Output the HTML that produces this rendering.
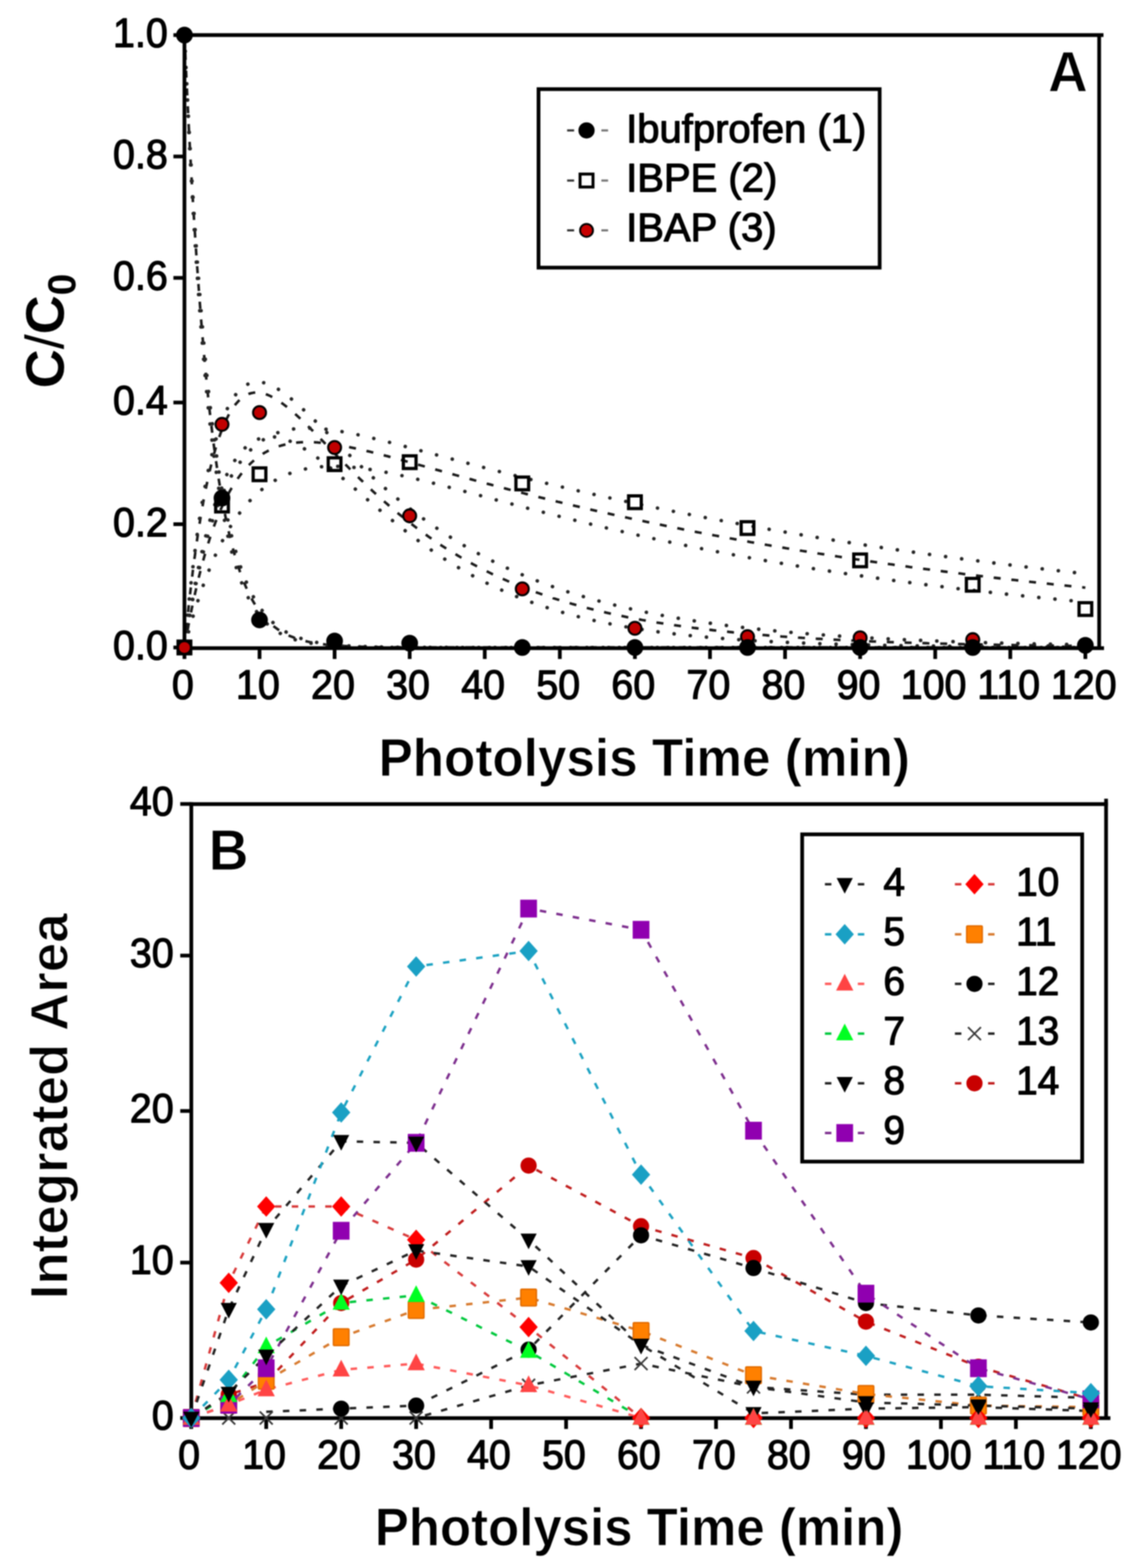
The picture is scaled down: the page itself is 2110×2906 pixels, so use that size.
<!DOCTYPE html>
<html><head><meta charset="utf-8"><title>Photolysis</title>
<style>
html,body{margin:0;padding:0;background:#fff;}
body{width:2110px;height:2906px;overflow:hidden;}
svg{display:block;filter:blur(1px);}
svg text{font-family:'Liberation Sans', Arial, Helvetica, sans-serif;fill:#000;}
</style></head><body>
<svg width="2110" height="2906" viewBox="0 0 2110 2906">
<rect width="2110" height="2906" fill="#fff"/>
<g stroke-linecap="butt">
<polyline points="342,1200 342.1,1199.7 342.2,1198.9 342.3,1198 342.6,1196.8 342.8,1195.5 343.1,1193.9 343.3,1192.3 343.7,1190.4 344,1188.5 344.4,1186.4 344.8,1184.2 345.2,1181.9 345.6,1179.4 346.1,1176.9 346.6,1174.3 347.1,1171.6 347.6,1168.8 348.1,1166 348.7,1163 349.2,1160 349.8,1156.9 350.4,1153.8 351,1150.6 351.7,1147.3 352.3,1144 353,1140.6 353.7,1137.2 354.4,1133.7 355.1,1130.2 355.8,1126.7 356.6,1123.1 357.3,1119.5 358.1,1115.9 358.9,1112.2 359.7,1108.5 360.5,1104.8 361.4,1101 362.2,1097.3 363.1,1093.5 363.9,1089.7 364.8,1085.9 365.7,1082.1 366.6,1078.3 367.5,1074.5 368.5,1070.6 369.4,1066.8 370.4,1063 371.4,1059.2 372.3,1055.3 373.3,1051.5 374.4,1047.7 375.4,1043.9 376.4,1040.1 377.4,1036.3 378.5,1032.5 379.6,1028.8 380.7,1025 381.7,1021.3 382.8,1017.6 384,1013.9 385.1,1010.2 386.2,1006.6 387.4,1002.9 388.5,999.3 389.7,995.8 390.9,992.2 392.1,988.7 393.3,985.2 394.5,981.7 395.7,978.3 396.9,974.9 398.2,971.5 399.4,968.2 400.7,964.9 402,961.7 403.2,958.4 404.5,955.3 405.8,952.1 407.2,949 408.5,945.9 409.8,942.9 411.2,939.9 412.5,936.9 413.9,934 415.3,931.1 416.6,928.3 418,925.5 419.4,922.7 420.9,920 422.3,917.3 423.7,914.6 425.1,912 426.6,909.4 428.1,906.9 429.5,904.4 431,901.9 432.5,899.5 434,897.1 435.5,894.8 437,892.5 438.5,890.2 440.1,888 441.6,885.8 443.2,883.7 444.7,881.6 446.3,879.5 447.9,877.5 449.5,875.5 451.1,873.6 452.7,871.7 454.3,869.8 455.9,868 457.5,866.2 459.2,864.4 460.8,862.7 462.5,861.1 464.1,859.4 465.8,857.8 467.5,856.3 469.2,854.8 470.9,853.3 472.6,851.8 474.3,850.4 476,849 477.8,847.7 479.5,846.4 481.3,845.1 483,843.9 484.8,842.7 486.6,841.6 488.4,840.4 490.1,839.3 491.9,838.3 493.8,837.3 495.6,836.3 497.4,835.3 499.2,834.4 501.1,833.5 502.9,832.6 504.8,831.8 506.6,831 508.5,830.2 510.4,829.5 512.3,828.8 514.2,828.1 516.1,827.4 518,826.8 519.9,826.2 521.8,825.6 523.8,825.1 525.7,824.6 527.7,824.1 529.6,823.6 531.6,823.2 533.6,822.8 535.5,822.4 537.5,822 539.5,821.7 541.5,821.4 543.5,821.1 545.6,820.8 547.6,820.6 549.6,820.4 551.7,820.2 553.7,820 555.8,819.9 557.8,819.7 559.9,819.6 562,819.5 564.1,819.5 566.2,819.4 568.3,819.4 570.4,819.4 572.5,819.4 574.6,819.4 576.7,819.4 578.9,819.5 581,819.6 583.2,819.7 585.3,819.8 587.5,819.9 589.7,820.1 591.9,820.3 594.1,820.4 596.2,820.6 598.4,820.8 600.7,821.1 602.9,821.3 605.1,821.6 607.3,821.8 609.6,822.1 611.8,822.4 614.1,822.7 616.3,823 618.6,823.4 620.9,823.7 623.1,824.1 625.4,824.5 627.7,824.8 630,825.2 632.3,825.6 634.6,826.1 637,826.5 639.3,826.9 641.6,827.4 644,827.8 646.3,828.3 648.7,828.8 651,829.3 653.4,829.8 655.8,830.3 658.2,830.8 660.6,831.3 663,831.8 665.4,832.4 667.8,832.9 670.2,833.5 672.6,834 675,834.6 677.5,835.2 679.9,835.8 682.4,836.3 684.8,836.9 687.3,837.5 689.8,838.2 692.2,838.8 694.7,839.4 697.2,840 699.7,840.7 702.2,841.3 704.7,841.9 707.2,842.6 709.7,843.2 712.3,843.9 714.8,844.6 717.4,845.2 719.9,845.9 722.5,846.6 725,847.3 727.6,848 730.2,848.7 732.7,849.4 735.3,850.1 737.9,850.8 740.5,851.5 743.1,852.2 745.7,852.9 748.4,853.6 751,854.3 753.6,855.1 756.2,855.8 758.9,856.5 761.5,857.3 764.2,858 766.9,858.7 769.5,859.5 772.2,860.2 774.9,861 777.6,861.7 780.3,862.5 783,863.2 785.7,864 788.4,864.7 791.1,865.5 793.8,866.3 796.6,867 799.3,867.8 802,868.6 804.8,869.3 807.5,870.1 810.3,870.9 813.1,871.6 815.8,872.4 818.6,873.2 821.4,874 824.2,874.7 827,875.5 829.8,876.3 832.6,877.1 835.4,877.9 838.3,878.7 841.1,879.4 843.9,880.2 846.8,881 849.6,881.8 852.5,882.6 855.3,883.4 858.2,884.2 861.1,885 863.9,885.7 866.8,886.5 869.7,887.3 872.6,888.1 875.5,888.9 878.4,889.7 881.3,890.5 884.2,891.3 887.2,892.1 890.1,892.9 893,893.7 896,894.5 898.9,895.3 901.9,896.1 904.8,896.9 907.8,897.6 910.8,898.4 913.7,899.2 916.7,900 919.7,900.8 922.7,901.6 925.7,902.4 928.7,903.2 931.7,904 934.7,904.8 937.8,905.6 940.8,906.4 943.8,907.2 946.9,908 949.9,908.8 953,909.5 956,910.3 959.1,911.1 962.2,911.9 965.2,912.7 968.3,913.5 971.4,914.3 974.5,915.1 977.6,915.9 980.7,916.7 983.8,917.4 986.9,918.2 990,919 993.2,919.8 996.3,920.6 999.4,921.4 1002.6,922.2 1005.7,922.9 1008.9,923.7 1012,924.5 1015.2,925.3 1018.4,926.1 1021.5,926.8 1024.7,927.6 1027.9,928.4 1031.1,929.2 1034.3,930 1037.5,930.7 1040.7,931.5 1043.9,932.3 1047.2,933.1 1050.4,933.8 1053.6,934.6 1056.9,935.4 1060.1,936.1 1063.3,936.9 1066.6,937.7 1069.9,938.4 1073.1,939.2 1076.4,940 1079.7,940.7 1083,941.5 1086.2,942.3 1089.5,943 1092.8,943.8 1096.1,944.6 1099.4,945.3 1102.8,946.1 1106.1,946.8 1109.4,947.6 1112.7,948.3 1116.1,949.1 1119.4,949.8 1122.8,950.6 1126.1,951.3 1129.5,952.1 1132.8,952.8 1136.2,953.6 1139.6,954.3 1142.9,955.1 1146.3,955.8 1149.7,956.6 1153.1,957.3 1156.5,958.1 1159.9,958.8 1163.3,959.5 1166.7,960.3 1170.2,961 1173.6,961.8 1177,962.5 1180.5,963.2 1183.9,964 1187.3,964.7 1190.8,965.4 1194.3,966.1 1197.7,966.9 1201.2,967.6 1204.7,968.3 1208.1,969 1211.6,969.8 1215.1,970.5 1218.6,971.2 1222.1,971.9 1225.6,972.7 1229.1,973.4 1232.6,974.1 1236.2,974.8 1239.7,975.6 1243.2,976.3 1246.8,977 1250.3,977.7 1253.9,978.4 1257.4,979.2 1261,979.9 1264.5,980.6 1268.1,981.3 1271.7,982 1275.2,982.7 1278.8,983.4 1282.4,984.1 1286,984.8 1289.6,985.6 1293.2,986.3 1296.8,987 1300.4,987.7 1304.1,988.4 1307.7,989.1 1311.3,989.8 1314.9,990.5 1318.6,991.1 1322.2,991.8 1325.9,992.5 1329.5,993.2 1333.2,993.9 1336.9,994.6 1340.5,995.3 1344.2,996 1347.9,996.7 1351.6,997.3 1355.3,998 1359,998.7 1362.7,999.4 1366.4,1000.1 1370.1,1000.7 1373.8,1001.4 1377.5,1002.1 1381.2,1002.7 1385,1003.4 1388.7,1004.1 1392.4,1004.8 1396.2,1005.4 1399.9,1006.1 1403.7,1006.7 1407.5,1007.4 1411.2,1008.1 1415,1008.7 1418.8,1009.4 1422.5,1010 1426.3,1010.7 1430.1,1011.4 1433.9,1012 1437.7,1012.7 1441.5,1013.3 1445.3,1014 1449.2,1014.6 1453,1015.2 1456.8,1015.9 1460.6,1016.5 1464.5,1017.2 1468.3,1017.8 1472.1,1018.4 1476,1019.1 1479.9,1019.7 1483.7,1020.4 1487.6,1021 1491.4,1021.6 1495.3,1022.2 1499.2,1022.9 1503.1,1023.5 1507,1024.1 1510.9,1024.7 1514.8,1025.4 1518.7,1026 1522.6,1026.6 1526.5,1027.2 1530.4,1027.8 1534.3,1028.5 1538.3,1029.1 1542.2,1029.7 1546.1,1030.3 1550.1,1030.9 1554,1031.5 1558,1032.1 1561.9,1032.7 1565.9,1033.3 1569.9,1033.9 1573.8,1034.5 1577.8,1035.1 1581.8,1035.7 1585.8,1036.3 1589.8,1036.9 1593.8,1037.5 1597.8,1038.1 1601.8,1038.7 1605.8,1039.3 1609.8,1039.9 1613.8,1040.5 1617.8,1041 1621.9,1041.6 1625.9,1042.2 1629.9,1042.8 1634,1043.4 1638,1043.9 1642.1,1044.5 1646.1,1045.1 1650.2,1045.7 1654.3,1046.2 1658.3,1046.8 1662.4,1047.4 1666.5,1047.9 1670.6,1048.5 1674.7,1049.1 1678.8,1049.6 1682.9,1050.2 1687,1050.8 1691.1,1051.3 1695.2,1051.9 1699.3,1052.4 1703.4,1053 1707.5,1053.5 1711.7,1054.1 1715.8,1054.6 1720,1055.2 1724.1,1055.7 1728.3,1056.3 1732.4,1056.8 1736.6,1057.4 1740.7,1057.9 1744.9,1058.4 1749.1,1059 1753.3,1059.5 1757.4,1060.1 1761.6,1060.6 1765.8,1061.1 1770,1061.7 1774.2,1062.2 1778.4,1062.7 1782.6,1063.2 1786.9,1063.8 1791.1,1064.3 1795.3,1064.8 1799.5,1065.3 1803.8,1065.8 1808,1066.4 1812.3,1066.9 1816.5,1067.4 1820.8,1067.9 1825,1068.4 1829.3,1068.9 1833.5,1069.4 1837.8,1069.9 1842.1,1070.5 1846.4,1071 1850.7,1071.5 1855,1072 1859.2,1072.5 1863.5,1073 1867.8,1073.5 1872.2,1074 1876.5,1074.5 1880.8,1074.9 1885.1,1075.4 1889.4,1075.9 1893.8,1076.4 1898.1,1076.9 1902.4,1077.4 1906.8,1077.9 1911.1,1078.4 1915.5,1078.8 1919.8,1079.3 1924.2,1079.8 1928.6,1080.3 1932.9,1080.8 1937.3,1081.2 1941.7,1081.7 1946.1,1082.2 1950.5,1082.7 1954.9,1083.1 1959.3,1083.6 1963.7,1084.1 1968.1,1084.5 1972.5,1085 1976.9,1085.4 1981.3,1085.9 1985.8,1086.4 1990.2,1086.8 1994.6,1087.3 1999.1,1087.7 2003.5,1088.2 2007.9,1088.6 2012.4,1089.1" fill="none" stroke="#1a1a1a" stroke-width="4.8" stroke-dasharray="13 20"/>
<polyline points="342,1200 342.1,1199.4 342.2,1198.1 342.3,1196.4 342.6,1194.3 342.8,1191.9 343.1,1189.1 343.3,1186.1 343.7,1182.9 344,1179.4 344.4,1175.7 344.8,1171.8 345.2,1167.7 345.6,1163.4 346.1,1159 346.6,1154.4 347.1,1149.6 347.6,1144.7 348.1,1139.7 348.7,1134.6 349.2,1129.3 349.8,1124 350.4,1118.5 351,1113 351.7,1107.4 352.3,1101.7 353,1095.9 353.7,1090 354.4,1084.1 355.1,1078.2 355.8,1072.2 356.6,1066.2 357.3,1060.1 358.1,1054 358.9,1047.8 359.7,1041.7 360.5,1035.5 361.4,1029.4 362.2,1023.2 363.1,1017 363.9,1010.8 364.8,1004.7 365.7,998.5 366.6,992.4 367.5,986.2 368.5,980.1 369.4,974.1 370.4,968.1 371.4,962.1 372.3,956.2 373.3,950.4 374.4,944.6 375.4,938.8 376.4,933.1 377.4,927.4 378.5,921.8 379.6,916.2 380.7,910.7 381.7,905.3 382.8,899.9 384,894.6 385.1,889.3 386.2,884.2 387.4,879 388.5,874 389.7,869 390.9,864.2 392.1,859.3 393.3,854.6 394.5,850 395.7,845.4 396.9,840.9 398.2,836.5 399.4,832.2 400.7,827.9 402,823.8 403.2,819.7 404.5,815.8 405.8,811.9 407.2,808.1 408.5,804.4 409.8,800.7 411.2,797.2 412.5,793.8 413.9,790.4 415.3,787.2 416.6,784 418,780.9 419.4,777.9 420.9,775 422.3,772.2 423.7,769.5 425.1,766.9 426.6,764.4 428.1,761.9 429.5,759.6 431,757.3 432.5,755.1 434,753 435.5,751 437,749.1 438.5,747.3 440.1,745.6 441.6,743.9 443.2,742.3 444.7,740.8 446.3,739.3 447.9,738 449.5,736.7 451.1,735.6 452.7,734.5 454.3,733.5 455.9,732.5 457.5,731.7 459.2,730.9 460.8,730.2 462.5,729.6 464.1,729.1 465.8,728.6 467.5,728.3 469.2,728 470.9,727.7 472.6,727.6 474.3,727.5 476,727.5 477.8,727.5 479.5,727.6 481.3,727.8 483,728.1 484.8,728.4 486.6,728.7 488.4,729.2 490.1,729.7 491.9,730.2 493.8,730.9 495.6,731.6 497.4,732.3 499.2,733.1 501.1,733.9 502.9,734.8 504.8,735.8 506.6,736.8 508.5,737.8 510.4,739 512.3,740.1 514.2,741.3 516.1,742.6 518,743.9 519.9,745.2 521.8,746.6 523.8,747.9 525.7,749.4 527.7,750.8 529.6,752.4 531.6,753.9 533.6,755.5 535.5,757.1 537.5,758.7 539.5,760.4 541.5,762.1 543.5,763.9 545.6,765.7 547.6,767.5 549.6,769.3 551.7,771.2 553.7,773.1 555.8,775 557.8,776.9 559.9,778.9 562,780.9 564.1,782.9 566.2,784.9 568.3,787 570.4,789 572.5,791.1 574.6,793.3 576.7,795.4 578.9,797.5 581,799.7 583.2,801.9 585.3,804.1 587.5,806.3 589.7,808.5 591.9,810.7 594.1,813 596.2,815.3 598.4,817.5 600.7,819.8 602.9,822.1 605.1,824.4 607.3,826.7 609.6,829 611.8,831.3 614.1,833.7 616.3,836 618.6,838.3 620.9,840.7 623.1,843 625.4,845.4 627.7,847.8 630,850.1 632.3,852.5 634.6,854.8 637,857.2 639.3,859.6 641.6,861.9 644,864.3 646.3,866.7 648.7,869.1 651,871.4 653.4,873.8 655.8,876.2 658.2,878.5 660.6,880.9 663,883.2 665.4,885.6 667.8,887.9 670.2,890.3 672.6,892.6 675,895 677.5,897.3 679.9,899.6 682.4,901.9 684.8,904.3 687.3,906.6 689.8,908.9 692.2,911.2 694.7,913.5 697.2,915.7 699.7,918 702.2,920.3 704.7,922.5 707.2,924.8 709.7,927 712.3,929.3 714.8,931.5 717.4,933.7 719.9,935.9 722.5,938.1 725,940.3 727.6,942.5 730.2,944.7 732.7,946.9 735.3,949 737.9,951.2 740.5,953.3 743.1,955.4 745.7,957.5 748.4,959.6 751,961.7 753.6,963.8 756.2,965.9 758.9,967.9 761.5,970 764.2,972 766.9,974.1 769.5,976.1 772.2,978.2 774.9,980.2 777.6,982.2 780.3,984.2 783,986.2 785.7,988.1 788.4,990.1 791.1,992 793.8,994 796.6,995.9 799.3,997.8 802,999.7 804.8,1001.6 807.5,1003.5 810.3,1005.3 813.1,1007.2 815.8,1009 818.6,1010.9 821.4,1012.7 824.2,1014.5 827,1016.3 829.8,1018 832.6,1019.8 835.4,1021.6 838.3,1023.3 841.1,1025 843.9,1026.7 846.8,1028.4 849.6,1030.1 852.5,1031.8 855.3,1033.5 858.2,1035.1 861.1,1036.8 863.9,1038.4 866.8,1040 869.7,1041.6 872.6,1043.2 875.5,1044.8 878.4,1046.4 881.3,1047.9 884.2,1049.5 887.2,1051 890.1,1052.5 893,1054 896,1055.5 898.9,1057 901.9,1058.5 904.8,1059.9 907.8,1061.4 910.8,1062.8 913.7,1064.3 916.7,1065.7 919.7,1067.1 922.7,1068.5 925.7,1069.8 928.7,1071.2 931.7,1072.6 934.7,1073.9 937.8,1075.2 940.8,1076.6 943.8,1077.9 946.9,1079.2 949.9,1080.5 953,1081.7 956,1083 959.1,1084.3 962.2,1085.5 965.2,1086.7 968.3,1088 971.4,1089.2 974.5,1090.4 977.6,1091.6 980.7,1092.7 983.8,1093.9 986.9,1095.1 990,1096.2 993.2,1097.4 996.3,1098.5 999.4,1099.6 1002.6,1100.7 1005.7,1101.8 1008.9,1102.9 1012,1104 1015.2,1105 1018.4,1106.1 1021.5,1107.1 1024.7,1108.2 1027.9,1109.2 1031.1,1110.2 1034.3,1111.2 1037.5,1112.2 1040.7,1113.2 1043.9,1114.2 1047.2,1115.2 1050.4,1116.1 1053.6,1117.1 1056.9,1118 1060.1,1119 1063.3,1119.9 1066.6,1120.8 1069.9,1121.7 1073.1,1122.6 1076.4,1123.5 1079.7,1124.4 1083,1125.3 1086.2,1126.1 1089.5,1127 1092.8,1127.8 1096.1,1128.7 1099.4,1129.5 1102.8,1130.3 1106.1,1131.1 1109.4,1131.9 1112.7,1132.7 1116.1,1133.5 1119.4,1134.3 1122.8,1135.1 1126.1,1135.8 1129.5,1136.6 1132.8,1137.3 1136.2,1138.1 1139.6,1138.8 1142.9,1139.5 1146.3,1140.3 1149.7,1141 1153.1,1141.7 1156.5,1142.4 1159.9,1143.1 1163.3,1143.8 1166.7,1144.4 1170.2,1145.1 1173.6,1145.8 1177,1146.4 1180.5,1147.1 1183.9,1147.7 1187.3,1148.3 1190.8,1149 1194.3,1149.6 1197.7,1150.2 1201.2,1150.8 1204.7,1151.4 1208.1,1152 1211.6,1152.6 1215.1,1153.2 1218.6,1153.8 1222.1,1154.3 1225.6,1154.9 1229.1,1155.4 1232.6,1156 1236.2,1156.5 1239.7,1157.1 1243.2,1157.6 1246.8,1158.1 1250.3,1158.7 1253.9,1159.2 1257.4,1159.7 1261,1160.2 1264.5,1160.7 1268.1,1161.2 1271.7,1161.7 1275.2,1162.2 1278.8,1162.6 1282.4,1163.1 1286,1163.6 1289.6,1164 1293.2,1164.5 1296.8,1164.9 1300.4,1165.4 1304.1,1165.8 1307.7,1166.3 1311.3,1166.7 1314.9,1167.1 1318.6,1167.5 1322.2,1168 1325.9,1168.4 1329.5,1168.8 1333.2,1169.2 1336.9,1169.6 1340.5,1170 1344.2,1170.4 1347.9,1170.7 1351.6,1171.1 1355.3,1171.5 1359,1171.9 1362.7,1172.2 1366.4,1172.6 1370.1,1172.9 1373.8,1173.3 1377.5,1173.7 1381.2,1174 1385,1174.3 1388.7,1174.7 1392.4,1175 1396.2,1175.3 1399.9,1175.7 1403.7,1176 1407.5,1176.3 1411.2,1176.6 1415,1176.9 1418.8,1177.2 1422.5,1177.5 1426.3,1177.8 1430.1,1178.1 1433.9,1178.4 1437.7,1178.7 1441.5,1179 1445.3,1179.3 1449.2,1179.6 1453,1179.8 1456.8,1180.1 1460.6,1180.4 1464.5,1180.6 1468.3,1180.9 1472.1,1181.2 1476,1181.4 1479.9,1181.7 1483.7,1181.9 1487.6,1182.2 1491.4,1182.4 1495.3,1182.6 1499.2,1182.9 1503.1,1183.1 1507,1183.3 1510.9,1183.6 1514.8,1183.8 1518.7,1184 1522.6,1184.2 1526.5,1184.5 1530.4,1184.7 1534.3,1184.9 1538.3,1185.1 1542.2,1185.3 1546.1,1185.5 1550.1,1185.7 1554,1185.9 1558,1186.1 1561.9,1186.3 1565.9,1186.5 1569.9,1186.7 1573.8,1186.9 1577.8,1187 1581.8,1187.2 1585.8,1187.4 1589.8,1187.6 1593.8,1187.7 1597.8,1187.9 1601.8,1188.1 1605.8,1188.3 1609.8,1188.4 1613.8,1188.6 1617.8,1188.8 1621.9,1188.9 1625.9,1189.1 1629.9,1189.2 1634,1189.4 1638,1189.5 1642.1,1189.7 1646.1,1189.8 1650.2,1190 1654.3,1190.1 1658.3,1190.3 1662.4,1190.4 1666.5,1190.5 1670.6,1190.7 1674.7,1190.8 1678.8,1190.9 1682.9,1191.1 1687,1191.2 1691.1,1191.3 1695.2,1191.4 1699.3,1191.6 1703.4,1191.7 1707.5,1191.8 1711.7,1191.9 1715.8,1192 1720,1192.2 1724.1,1192.3 1728.3,1192.4 1732.4,1192.5 1736.6,1192.6 1740.7,1192.7 1744.9,1192.8 1749.1,1192.9 1753.3,1193 1757.4,1193.1 1761.6,1193.2 1765.8,1193.3 1770,1193.4 1774.2,1193.5 1778.4,1193.6 1782.6,1193.7 1786.9,1193.8 1791.1,1193.9 1795.3,1194 1799.5,1194.1 1803.8,1194.2 1808,1194.3 1812.3,1194.3 1816.5,1194.4 1820.8,1194.5 1825,1194.6 1829.3,1194.7 1833.5,1194.8 1837.8,1194.8 1842.1,1194.9 1846.4,1195 1850.7,1195.1 1855,1195.1 1859.2,1195.2 1863.5,1195.3 1867.8,1195.4 1872.2,1195.4 1876.5,1195.5 1880.8,1195.6 1885.1,1195.6 1889.4,1195.7 1893.8,1195.8 1898.1,1195.8 1902.4,1195.9 1906.8,1196 1911.1,1196 1915.5,1196.1 1919.8,1196.1 1924.2,1196.2 1928.6,1196.3 1932.9,1196.3 1937.3,1196.4 1941.7,1196.4 1946.1,1196.5 1950.5,1196.5 1954.9,1196.6 1959.3,1196.6 1963.7,1196.7 1968.1,1196.7 1972.5,1196.8 1976.9,1196.8 1981.3,1196.9 1985.8,1196.9 1990.2,1197 1994.6,1197 1999.1,1197.1 2003.5,1197.1 2007.9,1197.2 2012.4,1197.2" fill="none" stroke="#1a1a1a" stroke-width="4.8" stroke-dasharray="13 20"/>
<polyline points="342,65 342.1,66.4 342.2,69.2 342.3,72.9 342.6,77.5 342.8,82.9 343.1,88.9 343.3,95.5 343.7,102.6 344,110.2 344.4,118.4 344.8,126.9 345.2,135.8 345.6,145.2 346.1,154.9 346.6,164.9 347.1,175.2 347.6,185.8 348.1,196.6 348.7,207.7 349.2,219.1 349.8,230.6 350.4,242.4 351,254.3 351.7,266.3 352.3,278.5 353,290.9 353.7,303.3 354.4,315.9 355.1,328.5 355.8,341.3 356.6,354.1 357.3,366.9 358.1,379.8 358.9,392.7 359.7,405.6 360.5,418.5 361.4,431.5 362.2,444.4 363.1,457.3 363.9,470.2 364.8,483 365.7,495.8 366.6,508.5 367.5,521.4 368.5,534.3 369.4,547.2 370.4,560 371.4,572.7 372.3,585.3 373.3,597.8 374.4,610.2 375.4,622.5 376.4,634.7 377.4,646.8 378.5,658.7 379.6,670.5 380.7,682.2 381.7,693.7 382.8,705.2 384,716.4 385.1,727.6 386.2,738.5 387.4,749.3 388.5,759.7 389.7,770 390.9,780.1 392.1,790.1 393.3,799.9 394.5,809.6 395.7,819.1 396.9,828.5 398.2,837.7 399.4,846.7 400.7,855.6 402,864.4 403.2,873 404.5,881.4 405.8,889.7 407.2,897.8 408.5,905.8 409.8,913.6 411.2,921.2 412.5,928.7 413.9,936.1 415.3,943.3 416.6,950.3 418,957.2 419.4,964 420.9,970.6 422.3,977.1 423.7,983.5 425.1,989.8 426.6,995.9 428.1,1001.9 429.5,1007.7 431,1013.4 432.5,1019 434,1024.4 435.5,1029.7 437,1034.9 438.5,1039.9 440.1,1044.9 441.6,1049.7 443.2,1054.3 444.7,1058.9 446.3,1063.3 447.9,1067.7 449.5,1071.9 451.1,1076 452.7,1079.9 454.3,1083.8 455.9,1087.6 457.5,1091.3 459.2,1094.8 460.8,1098.3 462.5,1101.7 464.1,1105 465.8,1108.2 467.5,1111.2 469.2,1114.3 470.9,1117.2 472.6,1120 474.3,1122.8 476,1125.4 477.8,1128 479.5,1130.5 481.3,1132.9 483,1135.3 484.8,1137.6 486.6,1139.8 488.4,1142 490.1,1144 491.9,1146 493.8,1148 495.6,1149.9 497.4,1151.7 499.2,1153.5 501.1,1155.2 502.9,1156.8 504.8,1158.4 506.6,1160 508.5,1161.5 510.4,1162.9 512.3,1164.3 514.2,1165.7 516.1,1167 518,1168.2 519.9,1169.5 521.8,1170.6 523.8,1171.8 525.7,1172.9 527.7,1173.9 529.6,1174.9 531.6,1175.9 533.6,1176.9 535.5,1177.8 537.5,1178.7 539.5,1179.5 541.5,1180.3 543.5,1181.1 545.6,1181.9 547.6,1182.6 549.6,1183.3 551.7,1184 553.7,1184.7 555.8,1185.3 557.8,1185.9 559.9,1186.5 562,1187 564.1,1187.6 566.2,1188.1 568.3,1188.6 570.4,1189.1 572.5,1189.5 574.6,1190 576.7,1190.4 578.9,1190.8 581,1191.2 583.2,1191.6 585.3,1191.9 587.5,1192.3 589.7,1192.6 591.9,1192.9 594.1,1193.3 596.2,1193.5 598.4,1193.8 600.7,1194.1 602.9,1194.4 605.1,1194.6 607.3,1194.8 609.6,1195.1 611.8,1195.3 614.1,1195.5 616.3,1195.7 618.6,1195.9 620.9,1196.1 623.1,1196.3 625.4,1196.4 627.7,1196.6 630,1196.8 632.3,1196.9 634.6,1197 637,1197.2 639.3,1197.3 641.6,1197.4 644,1197.6 646.3,1197.7 648.7,1197.8 651,1197.9 653.4,1198 655.8,1198.1 658.2,1198.2 660.6,1198.3 663,1198.3 665.4,1198.4 667.8,1198.5 670.2,1198.6 672.6,1198.6 675,1198.7 677.5,1198.8 679.9,1198.8 682.4,1198.9 684.8,1198.9 687.3,1199 689.8,1199 692.2,1199.1 694.7,1199.1 697.2,1199.2 699.7,1199.2 702.2,1199.3 704.7,1199.3 707.2,1199.3 709.7,1199.4 712.3,1199.4 714.8,1199.4 717.4,1199.5 719.9,1199.5 722.5,1199.5 725,1199.5 727.6,1199.6 730.2,1199.6 732.7,1199.6 735.3,1199.6 737.9,1199.6 740.5,1199.7 743.1,1199.7 745.7,1199.7 748.4,1199.7 751,1199.7 753.6,1199.7 756.2,1199.8 758.9,1199.8 761.5,1199.8 764.2,1199.8 766.9,1199.8 769.5,1199.8 772.2,1199.8 774.9,1199.8 777.6,1199.8 780.3,1199.8 783,1199.9 785.7,1199.9 788.4,1199.9 791.1,1199.9 793.8,1199.9 796.6,1199.9 799.3,1199.9 802,1199.9 804.8,1199.9 807.5,1199.9 810.3,1199.9 813.1,1199.9 815.8,1199.9 818.6,1199.9 821.4,1199.9 824.2,1199.9 827,1199.9 829.8,1199.9 832.6,1199.9 835.4,1200 838.3,1200 841.1,1200 843.9,1200 846.8,1200 849.6,1200 852.5,1200 855.3,1200 858.2,1200 861.1,1200 863.9,1200 866.8,1200 869.7,1200 872.6,1200 875.5,1200 878.4,1200 881.3,1200 884.2,1200 887.2,1200 890.1,1200 893,1200 896,1200 898.9,1200 901.9,1200 904.8,1200 907.8,1200 910.8,1200 913.7,1200 916.7,1200 919.7,1200 922.7,1200 925.7,1200 928.7,1200 931.7,1200 934.7,1200 937.8,1200 940.8,1200 943.8,1200 946.9,1200 949.9,1200 953,1200 956,1200 959.1,1200 962.2,1200 965.2,1200 968.3,1200 971.4,1200 974.5,1200 977.6,1200 980.7,1200 983.8,1200 986.9,1200 990,1200 993.2,1200 996.3,1200 999.4,1200 1002.6,1200 1005.7,1200 1008.9,1200 1012,1200 1015.2,1200 1018.4,1200 1021.5,1200 1024.7,1200 1027.9,1200 1031.1,1200 1034.3,1200 1037.5,1200 1040.7,1200 1043.9,1200 1047.2,1200 1050.4,1200 1053.6,1200 1056.9,1200 1060.1,1200 1063.3,1200 1066.6,1200 1069.9,1200 1073.1,1200 1076.4,1200 1079.7,1200 1083,1200 1086.2,1200 1089.5,1200 1092.8,1200 1096.1,1200 1099.4,1200 1102.8,1200 1106.1,1200 1109.4,1200 1112.7,1200 1116.1,1200 1119.4,1200 1122.8,1200 1126.1,1200 1129.5,1200 1132.8,1200 1136.2,1200 1139.6,1200 1142.9,1200 1146.3,1200 1149.7,1200 1153.1,1200 1156.5,1200 1159.9,1200 1163.3,1200 1166.7,1200 1170.2,1200 1173.6,1200 1177,1200 1180.5,1200 1183.9,1200 1187.3,1200 1190.8,1200 1194.3,1200 1197.7,1200 1201.2,1200 1204.7,1200 1208.1,1200 1211.6,1200 1215.1,1200 1218.6,1200 1222.1,1200 1225.6,1200 1229.1,1200 1232.6,1200 1236.2,1200 1239.7,1200 1243.2,1200 1246.8,1200 1250.3,1200 1253.9,1200 1257.4,1200 1261,1200 1264.5,1200 1268.1,1200 1271.7,1200 1275.2,1200 1278.8,1200 1282.4,1200 1286,1200 1289.6,1200 1293.2,1200 1296.8,1200 1300.4,1200 1304.1,1200 1307.7,1200 1311.3,1200 1314.9,1200 1318.6,1200 1322.2,1200 1325.9,1200 1329.5,1200 1333.2,1200 1336.9,1200 1340.5,1200 1344.2,1200 1347.9,1200 1351.6,1200 1355.3,1200 1359,1200 1362.7,1200 1366.4,1200 1370.1,1200 1373.8,1200 1377.5,1200 1381.2,1200 1385,1200 1388.7,1200 1392.4,1200 1396.2,1200 1399.9,1200 1403.7,1200 1407.5,1200 1411.2,1200 1415,1200 1418.8,1200 1422.5,1200 1426.3,1200 1430.1,1200 1433.9,1200 1437.7,1200 1441.5,1200 1445.3,1200 1449.2,1200 1453,1200 1456.8,1200 1460.6,1200 1464.5,1200 1468.3,1200 1472.1,1200 1476,1200 1479.9,1200 1483.7,1200 1487.6,1200 1491.4,1200 1495.3,1200 1499.2,1200 1503.1,1200 1507,1200 1510.9,1200 1514.8,1200 1518.7,1200 1522.6,1200 1526.5,1200 1530.4,1200 1534.3,1200 1538.3,1200 1542.2,1200 1546.1,1200 1550.1,1200 1554,1200 1558,1200 1561.9,1200 1565.9,1200 1569.9,1200 1573.8,1200 1577.8,1200 1581.8,1200 1585.8,1200 1589.8,1200 1593.8,1200 1597.8,1200 1601.8,1200 1605.8,1200 1609.8,1200 1613.8,1200 1617.8,1200 1621.9,1200 1625.9,1200 1629.9,1200 1634,1200 1638,1200 1642.1,1200 1646.1,1200 1650.2,1200 1654.3,1200 1658.3,1200 1662.4,1200 1666.5,1200 1670.6,1200 1674.7,1200 1678.8,1200 1682.9,1200 1687,1200 1691.1,1200 1695.2,1200 1699.3,1200 1703.4,1200 1707.5,1200 1711.7,1200 1715.8,1200 1720,1200 1724.1,1200 1728.3,1200 1732.4,1200 1736.6,1200 1740.7,1200 1744.9,1200 1749.1,1200 1753.3,1200 1757.4,1200 1761.6,1200 1765.8,1200 1770,1200 1774.2,1200 1778.4,1200 1782.6,1200 1786.9,1200 1791.1,1200 1795.3,1200 1799.5,1200 1803.8,1200 1808,1200 1812.3,1200 1816.5,1200 1820.8,1200 1825,1200 1829.3,1200 1833.5,1200 1837.8,1200 1842.1,1200 1846.4,1200 1850.7,1200 1855,1200 1859.2,1200 1863.5,1200 1867.8,1200 1872.2,1200 1876.5,1200 1880.8,1200 1885.1,1200 1889.4,1200 1893.8,1200 1898.1,1200 1902.4,1200 1906.8,1200 1911.1,1200 1915.5,1200 1919.8,1200 1924.2,1200 1928.6,1200 1932.9,1200 1937.3,1200 1941.7,1200 1946.1,1200 1950.5,1200 1954.9,1200 1959.3,1200 1963.7,1200 1968.1,1200 1972.5,1200 1976.9,1200 1981.3,1200 1985.8,1200 1990.2,1200 1994.6,1200 1999.1,1200 2003.5,1200 2007.9,1200 2012.4,1200" fill="none" stroke="#1a1a1a" stroke-width="4.8" stroke-dasharray="13 20"/>
</g><g stroke-linecap="round">
<polyline points="342,1200 342.1,1199.6 342.2,1198.8 342.3,1197.8 342.6,1196.5 342.8,1195 343.1,1193.3 343.3,1191.5 343.7,1189.5 344,1187.3 344.4,1185 344.8,1182.6 345.2,1180.1 345.6,1177.4 346.1,1174.7 346.6,1171.8 347.1,1168.9 347.6,1165.8 348.1,1162.7 348.7,1159.4 349.2,1156.1 349.8,1152.8 350.4,1149.3 351,1145.8 351.7,1142.2 352.3,1138.6 353,1134.9 353.7,1131.2 354.4,1127.4 355.1,1123.6 355.8,1119.7 356.6,1115.8 357.3,1111.9 358.1,1107.9 358.9,1103.9 359.7,1099.9 360.5,1095.9 361.4,1091.8 362.2,1087.7 363.1,1083.6 363.9,1079.5 364.8,1075.4 365.7,1071.2 366.6,1067.1 367.5,1063 368.5,1058.8 369.4,1054.7 370.4,1050.5 371.4,1046.4 372.3,1042.2 373.3,1038.1 374.4,1034 375.4,1029.9 376.4,1025.8 377.4,1021.7 378.5,1017.6 379.6,1013.6 380.7,1009.5 381.7,1005.5 382.8,1001.5 384,997.6 385.1,993.6 386.2,989.7 387.4,985.8 388.5,982 389.7,978.1 390.9,974.3 392.1,970.6 393.3,966.9 394.5,963.2 395.7,959.6 396.9,956 398.2,952.4 399.4,948.9 400.7,945.4 402,941.9 403.2,938.5 404.5,935.2 405.8,931.8 407.2,928.5 408.5,925.3 409.8,922 411.2,918.9 412.5,915.7 413.9,912.6 415.3,909.6 416.6,906.5 418,903.6 419.4,900.6 420.9,897.8 422.3,894.9 423.7,892.1 425.1,889.3 426.6,886.6 428.1,884 429.5,881.3 431,878.7 432.5,876.2 434,873.7 435.5,871.3 437,868.8 438.5,866.5 440.1,864.2 441.6,861.9 443.2,859.6 444.7,857.4 446.3,855.3 447.9,853.2 449.5,851.1 451.1,849.1 452.7,847.1 454.3,845.2 455.9,843.3 457.5,841.4 459.2,839.6 460.8,837.9 462.5,836.1 464.1,834.4 465.8,832.8 467.5,831.2 469.2,829.6 470.9,828.1 472.6,826.6 474.3,825.1 476,823.7 477.8,822.3 479.5,821 481.3,819.7 483,818.4 484.8,817.2 486.6,816 488.4,814.9 490.1,813.8 491.9,812.7 493.8,811.6 495.6,810.6 497.4,809.6 499.2,808.7 501.1,807.8 502.9,806.9 504.8,806 506.6,805.2 508.5,804.4 510.4,803.7 512.3,803 514.2,802.3 516.1,801.6 518,801 519.9,800.4 521.8,799.8 523.8,799.2 525.7,798.7 527.7,798.2 529.6,797.7 531.6,797.3 533.6,796.9 535.5,796.5 537.5,796.1 539.5,795.8 541.5,795.5 543.5,795.2 545.6,794.9 547.6,794.7 549.6,794.5 551.7,794.3 553.7,794.1 555.8,793.9 557.8,793.8 559.9,793.7 562,793.6 564.1,793.5 566.2,793.5 568.3,793.4 570.4,793.4 572.5,793.4 574.6,793.5 576.7,793.5 578.9,793.6 581,793.7 583.2,793.7 585.3,793.9 587.5,794 589.7,794.1 591.9,794.3 594.1,794.5 596.2,794.7 598.4,794.9 600.7,795.1 602.9,795.3 605.1,795.6 607.3,795.8 609.6,796.1 611.8,796.4 614.1,796.7 616.3,797 618.6,797.4 620.9,797.7 623.1,798 625.4,798.4 627.7,798.8 630,799.2 632.3,799.6 634.6,800 637,800.4 639.3,800.8 641.6,801.3 644,801.7 646.3,802.2 648.7,802.6 651,803.1 653.4,803.6 655.8,804.1 658.2,804.6 660.6,805.1 663,805.6 665.4,806.1 667.8,806.7 670.2,807.2 672.6,807.7 675,808.3 677.5,808.9 679.9,809.4 682.4,810 684.8,810.6 687.3,811.2 689.8,811.7 692.2,812.3 694.7,813 697.2,813.6 699.7,814.2 702.2,814.8 704.7,815.4 707.2,816.1 709.7,816.7 712.3,817.3 714.8,818 717.4,818.6 719.9,819.3 722.5,819.9 725,820.6 727.6,821.3 730.2,821.9 732.7,822.6 735.3,823.3 737.9,824 740.5,824.6 743.1,825.3 745.7,826 748.4,826.7 751,827.4 753.6,828.1 756.2,828.8 758.9,829.5 761.5,830.2 764.2,830.9 766.9,831.7 769.5,832.4 772.2,833.1 774.9,833.8 777.6,834.5 780.3,835.3 783,836 785.7,836.7 788.4,837.5 791.1,838.2 793.8,838.9 796.6,839.7 799.3,840.4 802,841.1 804.8,841.9 807.5,842.6 810.3,843.4 813.1,844.1 815.8,844.9 818.6,845.6 821.4,846.4 824.2,847.1 827,847.9 829.8,848.6 832.6,849.4 835.4,850.1 838.3,850.9 841.1,851.7 843.9,852.4 846.8,853.2 849.6,853.9 852.5,854.7 855.3,855.5 858.2,856.2 861.1,857 863.9,857.8 866.8,858.5 869.7,859.3 872.6,860.1 875.5,860.8 878.4,861.6 881.3,862.4 884.2,863.1 887.2,863.9 890.1,864.7 893,865.4 896,866.2 898.9,867 901.9,867.7 904.8,868.5 907.8,869.3 910.8,870.1 913.7,870.8 916.7,871.6 919.7,872.4 922.7,873.1 925.7,873.9 928.7,874.7 931.7,875.5 934.7,876.2 937.8,877 940.8,877.8 943.8,878.5 946.9,879.3 949.9,880.1 953,880.8 956,881.6 959.1,882.4 962.2,883.2 965.2,883.9 968.3,884.7 971.4,885.5 974.5,886.2 977.6,887 980.7,887.8 983.8,888.5 986.9,889.3 990,890.1 993.2,890.8 996.3,891.6 999.4,892.4 1002.6,893.1 1005.7,893.9 1008.9,894.7 1012,895.4 1015.2,896.2 1018.4,897 1021.5,897.7 1024.7,898.5 1027.9,899.2 1031.1,900 1034.3,900.8 1037.5,901.5 1040.7,902.3 1043.9,903 1047.2,903.8 1050.4,904.6 1053.6,905.3 1056.9,906.1 1060.1,906.8 1063.3,907.6 1066.6,908.3 1069.9,909.1 1073.1,909.9 1076.4,910.6 1079.7,911.4 1083,912.1 1086.2,912.9 1089.5,913.6 1092.8,914.4 1096.1,915.1 1099.4,915.9 1102.8,916.6 1106.1,917.4 1109.4,918.1 1112.7,918.8 1116.1,919.6 1119.4,920.3 1122.8,921.1 1126.1,921.8 1129.5,922.6 1132.8,923.3 1136.2,924 1139.6,924.8 1142.9,925.5 1146.3,926.3 1149.7,927 1153.1,927.7 1156.5,928.5 1159.9,929.2 1163.3,929.9 1166.7,930.7 1170.2,931.4 1173.6,932.1 1177,932.9 1180.5,933.6 1183.9,934.3 1187.3,935 1190.8,935.8 1194.3,936.5 1197.7,937.2 1201.2,937.9 1204.7,938.7 1208.1,939.4 1211.6,940.1 1215.1,940.8 1218.6,941.5 1222.1,942.3 1225.6,943 1229.1,943.7 1232.6,944.4 1236.2,945.1 1239.7,945.8 1243.2,946.6 1246.8,947.3 1250.3,948 1253.9,948.7 1257.4,949.4 1261,950.1 1264.5,950.8 1268.1,951.5 1271.7,952.2 1275.2,952.9 1278.8,953.6 1282.4,954.3 1286,955 1289.6,955.7 1293.2,956.4 1296.8,957.1 1300.4,957.8 1304.1,958.5 1307.7,959.2 1311.3,959.9 1314.9,960.6 1318.6,961.3 1322.2,962 1325.9,962.7 1329.5,963.3 1333.2,964 1336.9,964.7 1340.5,965.4 1344.2,966.1 1347.9,966.8 1351.6,967.5 1355.3,968.1 1359,968.8 1362.7,969.5 1366.4,970.2 1370.1,970.8 1373.8,971.5 1377.5,972.2 1381.2,972.9 1385,973.6 1388.7,974.2 1392.4,974.9 1396.2,975.6 1399.9,976.3 1403.7,977 1407.5,977.6 1411.2,978.3 1415,979 1418.8,979.6 1422.5,980.3 1426.3,981 1430.1,981.6 1433.9,982.3 1437.7,983 1441.5,983.6 1445.3,984.3 1449.2,985 1453,985.6 1456.8,986.3 1460.6,986.9 1464.5,987.6 1468.3,988.3 1472.1,988.9 1476,989.6 1479.9,990.2 1483.7,990.9 1487.6,991.5 1491.4,992.2 1495.3,992.8 1499.2,993.5 1503.1,994.1 1507,994.7 1510.9,995.4 1514.8,996 1518.7,996.7 1522.6,997.3 1526.5,997.9 1530.4,998.6 1534.3,999.2 1538.3,999.8 1542.2,1000.5 1546.1,1001.1 1550.1,1001.7 1554,1002.4 1558,1003 1561.9,1003.6 1565.9,1004.2 1569.9,1004.9 1573.8,1005.5 1577.8,1006.1 1581.8,1006.7 1585.8,1007.3 1589.8,1008 1593.8,1008.6 1597.8,1009.2 1601.8,1009.8 1605.8,1010.4 1609.8,1011 1613.8,1011.6 1617.8,1012.3 1621.9,1012.9 1625.9,1013.5 1629.9,1014.1 1634,1014.7 1638,1015.3 1642.1,1015.9 1646.1,1016.5 1650.2,1017.1 1654.3,1017.7 1658.3,1018.3 1662.4,1018.9 1666.5,1019.5 1670.6,1020.1 1674.7,1020.6 1678.8,1021.2 1682.9,1021.8 1687,1022.4 1691.1,1023 1695.2,1023.6 1699.3,1024.2 1703.4,1024.7 1707.5,1025.3 1711.7,1025.9 1715.8,1026.5 1720,1027.1 1724.1,1027.6 1728.3,1028.2 1732.4,1028.8 1736.6,1029.4 1740.7,1029.9 1744.9,1030.5 1749.1,1031.1 1753.3,1031.6 1757.4,1032.2 1761.6,1032.8 1765.8,1033.3 1770,1033.9 1774.2,1034.5 1778.4,1035 1782.6,1035.6 1786.9,1036.1 1791.1,1036.7 1795.3,1037.2 1799.5,1037.8 1803.8,1038.3 1808,1038.9 1812.3,1039.4 1816.5,1040 1820.8,1040.5 1825,1041.1 1829.3,1041.6 1833.5,1042.2 1837.8,1042.7 1842.1,1043.3 1846.4,1043.8 1850.7,1044.3 1855,1044.9 1859.2,1045.4 1863.5,1045.9 1867.8,1046.5 1872.2,1047 1876.5,1047.5 1880.8,1048.1 1885.1,1048.6 1889.4,1049.1 1893.8,1049.6 1898.1,1050.2 1902.4,1050.7 1906.8,1051.2 1911.1,1051.7 1915.5,1052.2 1919.8,1052.8 1924.2,1053.3 1928.6,1053.8 1932.9,1054.3 1937.3,1054.8 1941.7,1055.3 1946.1,1055.8 1950.5,1056.3 1954.9,1056.8 1959.3,1057.4 1963.7,1057.9 1968.1,1058.4 1972.5,1058.9 1976.9,1059.4 1981.3,1059.9 1985.8,1060.4 1990.2,1060.9 1994.6,1061.4 1999.1,1061.8 2003.5,1062.3 2007.9,1062.8 2012.4,1063.3" fill="none" stroke="#262626" stroke-width="6.6" stroke-dasharray="0.1 30"/>
<polyline points="342,1200 342.1,1199.8 342.2,1199.3 342.3,1198.6 342.6,1197.9 342.8,1196.9 343.1,1195.9 343.3,1194.8 343.7,1193.5 344,1192.2 344.4,1190.8 344.8,1189.3 345.2,1187.7 345.6,1186.1 346.1,1184.4 346.6,1182.6 347.1,1180.7 347.6,1178.8 348.1,1176.9 348.7,1174.8 349.2,1172.8 349.8,1170.6 350.4,1168.4 351,1166.2 351.7,1164 352.3,1161.6 353,1159.3 353.7,1156.9 354.4,1154.5 355.1,1152 355.8,1149.5 356.6,1147 357.3,1144.4 358.1,1141.8 358.9,1139.2 359.7,1136.5 360.5,1133.9 361.4,1131.2 362.2,1128.5 363.1,1125.7 363.9,1123 364.8,1120.2 365.7,1117.4 366.6,1114.6 367.5,1111.8 368.5,1109 369.4,1106.2 370.4,1103.3 371.4,1100.4 372.3,1097.6 373.3,1094.7 374.4,1091.8 375.4,1088.9 376.4,1086.1 377.4,1083.2 378.5,1080.3 379.6,1077.4 380.7,1074.5 381.7,1071.6 382.8,1068.7 384,1065.8 385.1,1063 386.2,1060.1 387.4,1057.2 388.5,1054.3 389.7,1051.5 390.9,1048.6 392.1,1045.8 393.3,1043 394.5,1040.1 395.7,1037.3 396.9,1034.5 398.2,1031.8 399.4,1029 400.7,1026.2 402,1023.5 403.2,1020.7 404.5,1018 405.8,1015.3 407.2,1012.6 408.5,1010 409.8,1007.3 411.2,1004.7 412.5,1002.1 413.9,999.5 415.3,996.9 416.6,994.3 418,991.8 419.4,989.3 420.9,986.8 422.3,984.3 423.7,981.9 425.1,979.4 426.6,977 428.1,974.6 429.5,972.3 431,970 432.5,967.7 434,965.4 435.5,963.2 437,961 438.5,958.8 440.1,956.6 441.6,954.5 443.2,952.3 444.7,950.3 446.3,948.2 447.9,946.1 449.5,944.1 451.1,942.1 452.7,940.2 454.3,938.2 455.9,936.3 457.5,934.4 459.2,932.6 460.8,930.7 462.5,928.9 464.1,927.2 465.8,925.4 467.5,923.7 469.2,922 470.9,920.3 472.6,918.6 474.3,917 476,915.4 477.8,913.9 479.5,912.3 481.3,910.8 483,909.3 484.8,907.9 486.6,906.4 488.4,905 490.1,903.6 491.9,902.3 493.8,900.9 495.6,899.6 497.4,898.4 499.2,897.1 501.1,895.9 502.9,894.7 504.8,893.5 506.6,892.4 508.5,891.2 510.4,890.1 512.3,889.1 514.2,888 516.1,887 518,886 519.9,885 521.8,884.1 523.8,883.2 525.7,882.3 527.7,881.4 529.6,880.5 531.6,879.7 533.6,878.9 535.5,878.1 537.5,877.4 539.5,876.6 541.5,875.9 543.5,875.2 545.6,874.6 547.6,873.9 549.6,873.3 551.7,872.7 553.7,872.1 555.8,871.6 557.8,871.1 559.9,870.6 562,870.1 564.1,869.6 566.2,869.2 568.3,868.7 570.4,868.3 572.5,867.9 574.6,867.6 576.7,867.2 578.9,866.9 581,866.6 583.2,866.3 585.3,866.1 587.5,865.8 589.7,865.6 591.9,865.4 594.1,865.2 596.2,865 598.4,864.9 600.7,864.7 602.9,864.6 605.1,864.5 607.3,864.4 609.6,864.3 611.8,864.3 614.1,864.3 616.3,864.2 618.6,864.2 620.9,864.3 623.1,864.3 625.4,864.3 627.7,864.4 630,864.5 632.3,864.6 634.6,864.7 637,864.8 639.3,864.9 641.6,865.1 644,865.2 646.3,865.4 648.7,865.6 651,865.8 653.4,866 655.8,866.2 658.2,866.5 660.6,866.7 663,867 665.4,867.3 667.8,867.6 670.2,867.9 672.6,868.2 675,868.5 677.5,868.8 679.9,869.2 682.4,869.5 684.8,869.9 687.3,870.3 689.8,870.7 692.2,871.1 694.7,871.5 697.2,871.9 699.7,872.3 702.2,872.8 704.7,873.2 707.2,873.7 709.7,874.2 712.3,874.6 714.8,875.1 717.4,875.6 719.9,876.1 722.5,876.6 725,877.2 727.6,877.7 730.2,878.2 732.7,878.8 735.3,879.3 737.9,879.9 740.5,880.4 743.1,881 745.7,881.6 748.4,882.2 751,882.8 753.6,883.4 756.2,884 758.9,884.6 761.5,885.2 764.2,885.8 766.9,886.5 769.5,887.1 772.2,887.7 774.9,888.4 777.6,889 780.3,889.7 783,890.4 785.7,891 788.4,891.7 791.1,892.4 793.8,893.1 796.6,893.7 799.3,894.4 802,895.1 804.8,895.8 807.5,896.5 810.3,897.2 813.1,898 815.8,898.7 818.6,899.4 821.4,900.1 824.2,900.9 827,901.6 829.8,902.3 832.6,903.1 835.4,903.8 838.3,904.5 841.1,905.3 843.9,906 846.8,906.8 849.6,907.6 852.5,908.3 855.3,909.1 858.2,909.8 861.1,910.6 863.9,911.4 866.8,912.2 869.7,912.9 872.6,913.7 875.5,914.5 878.4,915.3 881.3,916 884.2,916.8 887.2,917.6 890.1,918.4 893,919.2 896,920 898.9,920.8 901.9,921.6 904.8,922.4 907.8,923.2 910.8,924 913.7,924.8 916.7,925.6 919.7,926.4 922.7,927.2 925.7,928 928.7,928.8 931.7,929.6 934.7,930.4 937.8,931.2 940.8,932 943.8,932.8 946.9,933.6 949.9,934.4 953,935.2 956,936 959.1,936.9 962.2,937.7 965.2,938.5 968.3,939.3 971.4,940.1 974.5,940.9 977.6,941.7 980.7,942.5 983.8,943.3 986.9,944.2 990,945 993.2,945.8 996.3,946.6 999.4,947.4 1002.6,948.2 1005.7,949 1008.9,949.8 1012,950.7 1015.2,951.5 1018.4,952.3 1021.5,953.1 1024.7,953.9 1027.9,954.7 1031.1,955.5 1034.3,956.3 1037.5,957.1 1040.7,957.9 1043.9,958.7 1047.2,959.6 1050.4,960.4 1053.6,961.2 1056.9,962 1060.1,962.8 1063.3,963.6 1066.6,964.4 1069.9,965.2 1073.1,966 1076.4,966.8 1079.7,967.6 1083,968.4 1086.2,969.2 1089.5,970 1092.8,970.8 1096.1,971.6 1099.4,972.4 1102.8,973.2 1106.1,974 1109.4,974.8 1112.7,975.6 1116.1,976.4 1119.4,977.2 1122.8,978 1126.1,978.8 1129.5,979.6 1132.8,980.3 1136.2,981.1 1139.6,981.9 1142.9,982.7 1146.3,983.5 1149.7,984.3 1153.1,985.1 1156.5,985.9 1159.9,986.6 1163.3,987.4 1166.7,988.2 1170.2,989 1173.6,989.8 1177,990.5 1180.5,991.3 1183.9,992.1 1187.3,992.9 1190.8,993.6 1194.3,994.4 1197.7,995.2 1201.2,995.9 1204.7,996.7 1208.1,997.4 1211.6,998.2 1215.1,999 1218.6,999.7 1222.1,1000.5 1225.6,1001.2 1229.1,1002 1232.6,1002.7 1236.2,1003.5 1239.7,1004.2 1243.2,1005 1246.8,1005.7 1250.3,1006.5 1253.9,1007.2 1257.4,1008 1261,1008.7 1264.5,1009.4 1268.1,1010.2 1271.7,1010.9 1275.2,1011.6 1278.8,1012.4 1282.4,1013.1 1286,1013.8 1289.6,1014.6 1293.2,1015.3 1296.8,1016 1300.4,1016.7 1304.1,1017.4 1307.7,1018.2 1311.3,1018.9 1314.9,1019.6 1318.6,1020.3 1322.2,1021 1325.9,1021.7 1329.5,1022.4 1333.2,1023.1 1336.9,1023.8 1340.5,1024.5 1344.2,1025.2 1347.9,1025.9 1351.6,1026.6 1355.3,1027.3 1359,1028 1362.7,1028.7 1366.4,1029.4 1370.1,1030.1 1373.8,1030.8 1377.5,1031.5 1381.2,1032.1 1385,1032.8 1388.7,1033.5 1392.4,1034.2 1396.2,1034.9 1399.9,1035.5 1403.7,1036.2 1407.5,1036.9 1411.2,1037.5 1415,1038.2 1418.8,1038.9 1422.5,1039.5 1426.3,1040.2 1430.1,1040.8 1433.9,1041.5 1437.7,1042.2 1441.5,1042.8 1445.3,1043.5 1449.2,1044.1 1453,1044.8 1456.8,1045.4 1460.6,1046.1 1464.5,1046.7 1468.3,1047.3 1472.1,1048 1476,1048.6 1479.9,1049.2 1483.7,1049.9 1487.6,1050.5 1491.4,1051.1 1495.3,1051.8 1499.2,1052.4 1503.1,1053 1507,1053.6 1510.9,1054.3 1514.8,1054.9 1518.7,1055.5 1522.6,1056.1 1526.5,1056.7 1530.4,1057.3 1534.3,1057.9 1538.3,1058.5 1542.2,1059.2 1546.1,1059.8 1550.1,1060.4 1554,1061 1558,1061.6 1561.9,1062.2 1565.9,1062.8 1569.9,1063.3 1573.8,1063.9 1577.8,1064.5 1581.8,1065.1 1585.8,1065.7 1589.8,1066.3 1593.8,1066.9 1597.8,1067.4 1601.8,1068 1605.8,1068.6 1609.8,1069.2 1613.8,1069.7 1617.8,1070.3 1621.9,1070.9 1625.9,1071.4 1629.9,1072 1634,1072.6 1638,1073.1 1642.1,1073.7 1646.1,1074.3 1650.2,1074.8 1654.3,1075.4 1658.3,1075.9 1662.4,1076.5 1666.5,1077 1670.6,1077.6 1674.7,1078.1 1678.8,1078.7 1682.9,1079.2 1687,1079.7 1691.1,1080.3 1695.2,1080.8 1699.3,1081.3 1703.4,1081.9 1707.5,1082.4 1711.7,1082.9 1715.8,1083.5 1720,1084 1724.1,1084.5 1728.3,1085 1732.4,1085.6 1736.6,1086.1 1740.7,1086.6 1744.9,1087.1 1749.1,1087.6 1753.3,1088.1 1757.4,1088.6 1761.6,1089.2 1765.8,1089.7 1770,1090.2 1774.2,1090.7 1778.4,1091.2 1782.6,1091.7 1786.9,1092.2 1791.1,1092.7 1795.3,1093.2 1799.5,1093.6 1803.8,1094.1 1808,1094.6 1812.3,1095.1 1816.5,1095.6 1820.8,1096.1 1825,1096.6 1829.3,1097 1833.5,1097.5 1837.8,1098 1842.1,1098.5 1846.4,1098.9 1850.7,1099.4 1855,1099.9 1859.2,1100.4 1863.5,1100.8 1867.8,1101.3 1872.2,1101.8 1876.5,1102.2 1880.8,1102.7 1885.1,1103.1 1889.4,1103.6 1893.8,1104 1898.1,1104.5 1902.4,1105 1906.8,1105.4 1911.1,1105.8 1915.5,1106.3 1919.8,1106.7 1924.2,1107.2 1928.6,1107.6 1932.9,1108.1 1937.3,1108.5 1941.7,1108.9 1946.1,1109.4 1950.5,1109.8 1954.9,1110.2 1959.3,1110.7 1963.7,1111.1 1968.1,1111.5 1972.5,1111.9 1976.9,1112.4 1981.3,1112.8 1985.8,1113.2 1990.2,1113.6 1994.6,1114.1 1999.1,1114.5 2003.5,1114.9 2007.9,1115.3 2012.4,1115.7" fill="none" stroke="#262626" stroke-width="6.6" stroke-dasharray="0.1 30"/>
<polyline points="342,1200 342.1,1199.3 342.2,1198 342.3,1196.2 342.6,1194 342.8,1191.5 343.1,1188.6 343.3,1185.5 343.7,1182.1 344,1178.5 344.4,1174.6 344.8,1170.5 345.2,1166.2 345.6,1161.8 346.1,1157.1 346.6,1152.3 347.1,1147.3 347.6,1142.2 348.1,1137 348.7,1131.6 349.2,1126.2 349.8,1120.6 350.4,1114.9 351,1109.1 351.7,1103.2 352.3,1097.3 353,1091.2 353.7,1085.1 354.4,1079 355.1,1072.8 355.8,1066.6 356.6,1060.3 357.3,1053.9 358.1,1047.6 358.9,1041.2 359.7,1034.8 360.5,1028.4 361.4,1022 362.2,1015.5 363.1,1009.1 363.9,1002.7 364.8,996.3 365.7,989.9 366.6,983.5 367.5,977.1 368.5,970.8 369.4,964.6 370.4,958.4 371.4,952.2 372.3,946.1 373.3,940.1 374.4,934 375.4,928 376.4,922.1 377.4,916.2 378.5,910.4 379.6,904.7 380.7,899 381.7,893.3 382.8,887.8 384,882.3 385.1,876.8 386.2,871.5 387.4,866.2 388.5,861 389.7,855.8 390.9,850.8 392.1,845.8 393.3,840.9 394.5,836.1 395.7,831.4 396.9,826.7 398.2,822.2 399.4,817.7 400.7,813.4 402,809.1 403.2,804.9 404.5,800.8 405.8,796.7 407.2,792.8 408.5,789 409.8,785.2 411.2,781.6 412.5,778 413.9,774.6 415.3,771.2 416.6,767.9 418,764.7 419.4,761.7 420.9,758.7 422.3,755.8 423.7,752.9 425.1,750.2 426.6,747.6 428.1,745 429.5,742.5 431,740.1 432.5,737.8 434,735.6 435.5,733.5 437,731.4 438.5,729.5 440.1,727.6 441.6,725.9 443.2,724.2 444.7,722.6 446.3,721.1 447.9,719.7 449.5,718.3 451.1,717.1 452.7,715.9 454.3,714.8 455.9,713.8 457.5,712.9 459.2,712.1 460.8,711.3 462.5,710.7 464.1,710.1 465.8,709.5 467.5,709.1 469.2,708.7 470.9,708.4 472.6,708.2 474.3,708 476,707.9 477.8,707.9 479.5,708 481.3,708.1 483,708.3 484.8,708.5 486.6,708.8 488.4,709.2 490.1,709.6 491.9,710.1 493.8,710.7 495.6,711.3 497.4,711.9 499.2,712.7 501.1,713.4 502.9,714.3 504.8,715.2 506.6,716.1 508.5,717.1 510.4,718.1 512.3,719.2 514.2,720.3 516.1,721.5 518,722.7 519.9,724 521.8,725.3 523.8,726.7 525.7,728 527.7,729.5 529.6,730.9 531.6,732.5 533.6,734 535.5,735.6 537.5,737.2 539.5,738.8 541.5,740.5 543.5,742.2 545.6,744 547.6,745.8 549.6,747.5 551.7,749.3 553.7,751.1 555.8,753 557.8,754.8 559.9,756.7 562,758.6 564.1,760.6 566.2,762.5 568.3,764.5 570.4,766.5 572.5,768.5 574.6,770.6 576.7,772.6 578.9,774.7 581,776.8 583.2,778.9 585.3,781 587.5,783.2 589.7,785.3 591.9,787.5 594.1,789.7 596.2,791.8 598.4,794 600.7,796.3 602.9,798.5 605.1,800.7 607.3,802.9 609.6,805.2 611.8,807.4 614.1,809.7 616.3,812 618.6,814.2 620.9,816.5 623.1,818.8 625.4,821.1 627.7,823.4 630,825.7 632.3,828 634.6,830.3 637,832.6 639.3,834.9 641.6,837.2 644,839.5 646.3,841.9 648.7,844.2 651,846.5 653.4,848.8 655.8,851.1 658.2,853.4 660.6,855.7 663,858 665.4,860.3 667.8,862.7 670.2,865 672.6,867.2 675,869.5 677.5,871.8 679.9,874.1 682.4,876.4 684.8,878.7 687.3,881 689.8,883.2 692.2,885.5 694.7,887.7 697.2,890 699.7,892.2 702.2,894.5 704.7,896.7 707.2,898.9 709.7,901.2 712.3,903.4 714.8,905.6 717.4,907.8 719.9,910 722.5,912.2 725,914.3 727.6,916.5 730.2,918.7 732.7,920.8 735.3,923 737.9,925.1 740.5,927.2 743.1,929.3 745.7,931.5 748.4,933.5 751,935.6 753.6,937.7 756.2,939.8 758.9,941.9 761.5,943.9 764.2,946 766.9,948 769.5,950 772.2,952 774.9,954 777.6,956 780.3,958 783,960 785.7,961.9 788.4,963.9 791.1,965.8 793.8,967.8 796.6,969.7 799.3,971.6 802,973.5 804.8,975.4 807.5,977.4 810.3,979.2 813.1,981.1 815.8,983 818.6,984.9 821.4,986.7 824.2,988.6 827,990.4 829.8,992.2 832.6,994 835.4,995.8 838.3,997.6 841.1,999.4 843.9,1001.1 846.8,1002.9 849.6,1004.6 852.5,1006.3 855.3,1008.1 858.2,1009.8 861.1,1011.5 863.9,1013.1 866.8,1014.8 869.7,1016.5 872.6,1018.1 875.5,1019.8 878.4,1021.4 881.3,1023 884.2,1024.6 887.2,1026.2 890.1,1027.8 893,1029.4 896,1031 898.9,1032.5 901.9,1034 904.8,1035.6 907.8,1037.1 910.8,1038.6 913.7,1040.1 916.7,1041.6 919.7,1043.1 922.7,1044.5 925.7,1046 928.7,1047.4 931.7,1048.9 934.7,1050.3 937.8,1051.7 940.8,1053.1 943.8,1054.5 946.9,1055.9 949.9,1057.3 953,1058.6 956,1060 959.1,1061.3 962.2,1062.7 965.2,1064 968.3,1065.3 971.4,1066.6 974.5,1067.9 977.6,1069.2 980.7,1070.4 983.8,1071.7 986.9,1072.9 990,1074.2 993.2,1075.4 996.3,1076.6 999.4,1077.8 1002.6,1079 1005.7,1080.2 1008.9,1081.4 1012,1082.6 1015.2,1083.8 1018.4,1084.9 1021.5,1086.1 1024.7,1087.2 1027.9,1088.3 1031.1,1089.4 1034.3,1090.5 1037.5,1091.6 1040.7,1092.7 1043.9,1093.8 1047.2,1094.9 1050.4,1096 1053.6,1097 1056.9,1098.1 1060.1,1099.1 1063.3,1100.1 1066.6,1101.1 1069.9,1102.1 1073.1,1103.1 1076.4,1104.1 1079.7,1105.1 1083,1106.1 1086.2,1107.1 1089.5,1108 1092.8,1109 1096.1,1109.9 1099.4,1110.9 1102.8,1111.8 1106.1,1112.7 1109.4,1113.6 1112.7,1114.5 1116.1,1115.4 1119.4,1116.3 1122.8,1117.2 1126.1,1118 1129.5,1118.9 1132.8,1119.8 1136.2,1120.6 1139.6,1121.4 1142.9,1122.3 1146.3,1123.1 1149.7,1123.9 1153.1,1124.7 1156.5,1125.5 1159.9,1126.3 1163.3,1127.1 1166.7,1127.9 1170.2,1128.7 1173.6,1129.4 1177,1130.2 1180.5,1130.9 1183.9,1131.7 1187.3,1132.4 1190.8,1133.2 1194.3,1133.9 1197.7,1134.6 1201.2,1135.3 1204.7,1136 1208.1,1136.7 1211.6,1137.4 1215.1,1138.1 1218.6,1138.8 1222.1,1139.4 1225.6,1140.1 1229.1,1140.8 1232.6,1141.4 1236.2,1142.1 1239.7,1142.7 1243.2,1143.3 1246.8,1144 1250.3,1144.6 1253.9,1145.2 1257.4,1145.8 1261,1146.4 1264.5,1147 1268.1,1147.6 1271.7,1148.2 1275.2,1148.8 1278.8,1149.4 1282.4,1149.9 1286,1150.5 1289.6,1151.1 1293.2,1151.6 1296.8,1152.2 1300.4,1152.7 1304.1,1153.2 1307.7,1153.8 1311.3,1154.3 1314.9,1154.8 1318.6,1155.3 1322.2,1155.8 1325.9,1156.3 1329.5,1156.8 1333.2,1157.3 1336.9,1157.8 1340.5,1158.3 1344.2,1158.8 1347.9,1159.3 1351.6,1159.7 1355.3,1160.2 1359,1160.7 1362.7,1161.1 1366.4,1161.6 1370.1,1162 1373.8,1162.5 1377.5,1162.9 1381.2,1163.3 1385,1163.8 1388.7,1164.2 1392.4,1164.6 1396.2,1165 1399.9,1165.4 1403.7,1165.8 1407.5,1166.2 1411.2,1166.6 1415,1167 1418.8,1167.4 1422.5,1167.8 1426.3,1168.2 1430.1,1168.6 1433.9,1168.9 1437.7,1169.3 1441.5,1169.7 1445.3,1170 1449.2,1170.4 1453,1170.8 1456.8,1171.1 1460.6,1171.5 1464.5,1171.8 1468.3,1172.1 1472.1,1172.5 1476,1172.8 1479.9,1173.1 1483.7,1173.5 1487.6,1173.8 1491.4,1174.1 1495.3,1174.4 1499.2,1174.7 1503.1,1175 1507,1175.3 1510.9,1175.6 1514.8,1175.9 1518.7,1176.2 1522.6,1176.5 1526.5,1176.8 1530.4,1177.1 1534.3,1177.4 1538.3,1177.7 1542.2,1177.9 1546.1,1178.2 1550.1,1178.5 1554,1178.7 1558,1179 1561.9,1179.3 1565.9,1179.5 1569.9,1179.8 1573.8,1180 1577.8,1180.3 1581.8,1180.5 1585.8,1180.8 1589.8,1181 1593.8,1181.2 1597.8,1181.5 1601.8,1181.7 1605.8,1181.9 1609.8,1182.2 1613.8,1182.4 1617.8,1182.6 1621.9,1182.8 1625.9,1183.1 1629.9,1183.3 1634,1183.5 1638,1183.7 1642.1,1183.9 1646.1,1184.1 1650.2,1184.3 1654.3,1184.5 1658.3,1184.7 1662.4,1184.9 1666.5,1185.1 1670.6,1185.3 1674.7,1185.5 1678.8,1185.7 1682.9,1185.8 1687,1186 1691.1,1186.2 1695.2,1186.4 1699.3,1186.6 1703.4,1186.7 1707.5,1186.9 1711.7,1187.1 1715.8,1187.2 1720,1187.4 1724.1,1187.6 1728.3,1187.7 1732.4,1187.9 1736.6,1188 1740.7,1188.2 1744.9,1188.4 1749.1,1188.5 1753.3,1188.7 1757.4,1188.8 1761.6,1189 1765.8,1189.1 1770,1189.2 1774.2,1189.4 1778.4,1189.5 1782.6,1189.7 1786.9,1189.8 1791.1,1189.9 1795.3,1190.1 1799.5,1190.2 1803.8,1190.3 1808,1190.5 1812.3,1190.6 1816.5,1190.7 1820.8,1190.8 1825,1191 1829.3,1191.1 1833.5,1191.2 1837.8,1191.3 1842.1,1191.4 1846.4,1191.5 1850.7,1191.7 1855,1191.8 1859.2,1191.9 1863.5,1192 1867.8,1192.1 1872.2,1192.2 1876.5,1192.3 1880.8,1192.4 1885.1,1192.5 1889.4,1192.6 1893.8,1192.7 1898.1,1192.8 1902.4,1192.9 1906.8,1193 1911.1,1193.1 1915.5,1193.2 1919.8,1193.3 1924.2,1193.4 1928.6,1193.5 1932.9,1193.6 1937.3,1193.7 1941.7,1193.7 1946.1,1193.8 1950.5,1193.9 1954.9,1194 1959.3,1194.1 1963.7,1194.2 1968.1,1194.2 1972.5,1194.3 1976.9,1194.4 1981.3,1194.5 1985.8,1194.6 1990.2,1194.6 1994.6,1194.7 1999.1,1194.8 2003.5,1194.8 2007.9,1194.9 2012.4,1195" fill="none" stroke="#262626" stroke-width="6.6" stroke-dasharray="0.1 30"/>
<polyline points="342,1200 342.1,1199.6 342.2,1198.8 342.3,1197.7 342.6,1196.3 342.8,1194.7 343.1,1192.9 343.3,1191 343.7,1188.9 344,1186.6 344.4,1184.2 344.8,1181.6 345.2,1178.9 345.6,1176.1 346.1,1173.2 346.6,1170.1 347.1,1167 347.6,1163.7 348.1,1160.4 348.7,1157 349.2,1153.4 349.8,1149.8 350.4,1146.2 351,1142.4 351.7,1138.6 352.3,1134.8 353,1130.8 353.7,1126.8 354.4,1122.8 355.1,1118.7 355.8,1114.6 356.6,1110.4 357.3,1106.2 358.1,1102 358.9,1097.7 359.7,1093.4 360.5,1089 361.4,1084.7 362.2,1080.3 363.1,1075.9 363.9,1071.5 364.8,1067 365.7,1062.6 366.6,1058.1 367.5,1053.7 368.5,1049.2 369.4,1044.8 370.4,1040.3 371.4,1035.9 372.3,1031.4 373.3,1027 374.4,1022.5 375.4,1018.1 376.4,1013.7 377.4,1009.3 378.5,1005 379.6,1000.6 380.7,996.3 381.7,992 382.8,987.7 384,983.5 385.1,979.2 386.2,975 387.4,970.9 388.5,966.8 389.7,962.8 390.9,958.8 392.1,954.8 393.3,950.9 394.5,947 395.7,943.1 396.9,939.3 398.2,935.6 399.4,931.8 400.7,928.2 402,924.5 403.2,920.9 404.5,917.4 405.8,913.9 407.2,910.5 408.5,907.1 409.8,903.8 411.2,900.5 412.5,897.3 413.9,894.1 415.3,891 416.6,887.9 418,884.9 419.4,881.9 420.9,879 422.3,876.2 423.7,873.4 425.1,870.7 426.6,868 428.1,865.4 429.5,862.8 431,860.4 432.5,857.9 434,855.6 435.5,853.2 437,851 438.5,848.8 440.1,846.7 441.6,844.6 443.2,842.6 444.7,840.6 446.3,838.8 447.9,836.9 449.5,835.2 451.1,833.5 452.7,831.8 454.3,830.2 455.9,828.7 457.5,827.2 459.2,825.8 460.8,824.5 462.5,823.2 464.1,822 465.8,820.8 467.5,819.7 469.2,818.7 470.9,817.7 472.6,816.8 474.3,815.9 476,815.1 477.8,814.3 479.5,813.6 481.3,813 483,812.4 484.8,811.8 486.6,811.4 488.4,811 490.1,810.6 491.9,810.3 493.8,810 495.6,809.8 497.4,809.7 499.2,809.6 501.1,809.5 502.9,809.5 504.8,809.6 506.6,809.7 508.5,809.8 510.4,810 512.3,810.3 514.2,810.6 516.1,810.9 518,811.3 519.9,811.7 521.8,812.2 523.8,812.7 525.7,813.3 527.7,813.9 529.6,814.6 531.6,815.3 533.6,816 535.5,816.8 537.5,817.6 539.5,818.5 541.5,819.4 543.5,820.3 545.6,821.3 547.6,822.3 549.6,823.3 551.7,824.4 553.7,825.5 555.8,826.7 557.8,827.9 559.9,829.1 562,830.3 564.1,831.6 566.2,832.9 568.3,834.3 570.4,835.7 572.5,837.1 574.6,838.5 576.7,839.9 578.9,841.4 581,843 583.2,844.5 585.3,846.1 587.5,847.6 589.7,849.3 591.9,850.9 594.1,852.6 596.2,854.2 598.4,855.9 600.7,857.7 602.9,859.4 605.1,861.2 607.3,863 609.6,864.8 611.8,866.6 614.1,868.4 616.3,870.3 618.6,872.2 620.9,874 623.1,875.9 625.4,877.9 627.7,879.8 630,881.7 632.3,883.7 634.6,885.6 637,887.6 639.3,889.6 641.6,891.6 644,893.6 646.3,895.7 648.7,897.7 651,899.7 653.4,901.8 655.8,903.8 658.2,905.9 660.6,907.9 663,910 665.4,912.1 667.8,914.2 670.2,916.3 672.6,918.4 675,920.5 677.5,922.6 679.9,924.7 682.4,926.8 684.8,928.9 687.3,931 689.8,933.1 692.2,935.2 694.7,937.3 697.2,939.4 699.7,941.5 702.2,943.7 704.7,945.8 707.2,947.9 709.7,950 712.3,952.1 714.8,954.2 717.4,956.3 719.9,958.4 722.5,960.5 725,962.6 727.6,964.7 730.2,966.7 732.7,968.8 735.3,970.9 737.9,973 740.5,975.1 743.1,977.1 745.7,979.2 748.4,981.3 751,983.4 753.6,985.4 756.2,987.5 758.9,989.5 761.5,991.5 764.2,993.6 766.9,995.6 769.5,997.6 772.2,999.6 774.9,1001.6 777.6,1003.6 780.3,1005.6 783,1007.5 785.7,1009.5 788.4,1011.5 791.1,1013.4 793.8,1015.3 796.6,1017.2 799.3,1019.2 802,1021.1 804.8,1022.9 807.5,1024.8 810.3,1026.7 813.1,1028.6 815.8,1030.4 818.6,1032.2 821.4,1034.1 824.2,1035.9 827,1037.7 829.8,1039.5 832.6,1041.2 835.4,1043 838.3,1044.8 841.1,1046.5 843.9,1048.2 846.8,1050 849.6,1051.7 852.5,1053.4 855.3,1055 858.2,1056.7 861.1,1058.4 863.9,1060 866.8,1061.7 869.7,1063.3 872.6,1064.9 875.5,1066.5 878.4,1068.1 881.3,1069.6 884.2,1071.2 887.2,1072.8 890.1,1074.3 893,1075.8 896,1077.3 898.9,1078.8 901.9,1080.3 904.8,1081.8 907.8,1083.2 910.8,1084.7 913.7,1086.1 916.7,1087.5 919.7,1088.9 922.7,1090.3 925.7,1091.7 928.7,1093.1 931.7,1094.4 934.7,1095.8 937.8,1097.1 940.8,1098.4 943.8,1099.7 946.9,1101 949.9,1102.3 953,1103.6 956,1104.8 959.1,1106.1 962.2,1107.3 965.2,1108.5 968.3,1109.8 971.4,1110.9 974.5,1112.1 977.6,1113.3 980.7,1114.5 983.8,1115.6 986.9,1116.7 990,1117.9 993.2,1119 996.3,1120.1 999.4,1121.2 1002.6,1122.2 1005.7,1123.3 1008.9,1124.4 1012,1125.4 1015.2,1126.4 1018.4,1127.5 1021.5,1128.5 1024.7,1129.5 1027.9,1130.5 1031.1,1131.4 1034.3,1132.4 1037.5,1133.3 1040.7,1134.3 1043.9,1135.2 1047.2,1136.1 1050.4,1137.1 1053.6,1138 1056.9,1138.8 1060.1,1139.7 1063.3,1140.6 1066.6,1141.4 1069.9,1142.3 1073.1,1143.1 1076.4,1144 1079.7,1144.8 1083,1145.6 1086.2,1146.4 1089.5,1147.2 1092.8,1148 1096.1,1148.7 1099.4,1149.5 1102.8,1150.2 1106.1,1151 1109.4,1151.7 1112.7,1152.4 1116.1,1153.1 1119.4,1153.8 1122.8,1154.5 1126.1,1155.2 1129.5,1155.9 1132.8,1156.6 1136.2,1157.2 1139.6,1157.9 1142.9,1158.5 1146.3,1159.2 1149.7,1159.8 1153.1,1160.4 1156.5,1161 1159.9,1161.6 1163.3,1162.2 1166.7,1162.8 1170.2,1163.4 1173.6,1164 1177,1164.5 1180.5,1165.1 1183.9,1165.6 1187.3,1166.2 1190.8,1166.7 1194.3,1167.2 1197.7,1167.7 1201.2,1168.3 1204.7,1168.8 1208.1,1169.3 1211.6,1169.7 1215.1,1170.2 1218.6,1170.7 1222.1,1171.2 1225.6,1171.6 1229.1,1172.1 1232.6,1172.5 1236.2,1173 1239.7,1173.4 1243.2,1173.9 1246.8,1174.3 1250.3,1174.7 1253.9,1175.1 1257.4,1175.5 1261,1175.9 1264.5,1176.3 1268.1,1176.7 1271.7,1177.1 1275.2,1177.5 1278.8,1177.9 1282.4,1178.2 1286,1178.6 1289.6,1178.9 1293.2,1179.3 1296.8,1179.6 1300.4,1180 1304.1,1180.3 1307.7,1180.6 1311.3,1181 1314.9,1181.3 1318.6,1181.6 1322.2,1181.9 1325.9,1182.2 1329.5,1182.5 1333.2,1182.8 1336.9,1183.1 1340.5,1183.4 1344.2,1183.7 1347.9,1184 1351.6,1184.2 1355.3,1184.5 1359,1184.8 1362.7,1185 1366.4,1185.3 1370.1,1185.6 1373.8,1185.8 1377.5,1186.1 1381.2,1186.3 1385,1186.5 1388.7,1186.8 1392.4,1187 1396.2,1187.2 1399.9,1187.5 1403.7,1187.7 1407.5,1187.9 1411.2,1188.1 1415,1188.3 1418.8,1188.5 1422.5,1188.7 1426.3,1188.9 1430.1,1189.1 1433.9,1189.3 1437.7,1189.5 1441.5,1189.7 1445.3,1189.9 1449.2,1190.1 1453,1190.2 1456.8,1190.4 1460.6,1190.6 1464.5,1190.8 1468.3,1190.9 1472.1,1191.1 1476,1191.3 1479.9,1191.4 1483.7,1191.6 1487.6,1191.7 1491.4,1191.9 1495.3,1192 1499.2,1192.2 1503.1,1192.3 1507,1192.5 1510.9,1192.6 1514.8,1192.7 1518.7,1192.9 1522.6,1193 1526.5,1193.1 1530.4,1193.2 1534.3,1193.4 1538.3,1193.5 1542.2,1193.6 1546.1,1193.7 1550.1,1193.9 1554,1194 1558,1194.1 1561.9,1194.2 1565.9,1194.3 1569.9,1194.4 1573.8,1194.5 1577.8,1194.6 1581.8,1194.7 1585.8,1194.8 1589.8,1194.9 1593.8,1195 1597.8,1195.1 1601.8,1195.2 1605.8,1195.3 1609.8,1195.4 1613.8,1195.5 1617.8,1195.6 1621.9,1195.6 1625.9,1195.7 1629.9,1195.8 1634,1195.9 1638,1196 1642.1,1196 1646.1,1196.1 1650.2,1196.2 1654.3,1196.3 1658.3,1196.3 1662.4,1196.4 1666.5,1196.5 1670.6,1196.5 1674.7,1196.6 1678.8,1196.7 1682.9,1196.7 1687,1196.8 1691.1,1196.9 1695.2,1196.9 1699.3,1197 1703.4,1197 1707.5,1197.1 1711.7,1197.2 1715.8,1197.2 1720,1197.3 1724.1,1197.3 1728.3,1197.4 1732.4,1197.4 1736.6,1197.5 1740.7,1197.5 1744.9,1197.6 1749.1,1197.6 1753.3,1197.7 1757.4,1197.7 1761.6,1197.8 1765.8,1197.8 1770,1197.9 1774.2,1197.9 1778.4,1197.9 1782.6,1198 1786.9,1198 1791.1,1198.1 1795.3,1198.1 1799.5,1198.1 1803.8,1198.2 1808,1198.2 1812.3,1198.3 1816.5,1198.3 1820.8,1198.3 1825,1198.4 1829.3,1198.4 1833.5,1198.4 1837.8,1198.5 1842.1,1198.5 1846.4,1198.5 1850.7,1198.5 1855,1198.6 1859.2,1198.6 1863.5,1198.6 1867.8,1198.7 1872.2,1198.7 1876.5,1198.7 1880.8,1198.7 1885.1,1198.8 1889.4,1198.8 1893.8,1198.8 1898.1,1198.8 1902.4,1198.9 1906.8,1198.9 1911.1,1198.9 1915.5,1198.9 1919.8,1199 1924.2,1199 1928.6,1199 1932.9,1199 1937.3,1199 1941.7,1199.1 1946.1,1199.1 1950.5,1199.1 1954.9,1199.1 1959.3,1199.1 1963.7,1199.2 1968.1,1199.2 1972.5,1199.2 1976.9,1199.2 1981.3,1199.2 1985.8,1199.2 1990.2,1199.3 1994.6,1199.3 1999.1,1199.3 2003.5,1199.3 2007.9,1199.3 2012.4,1199.3" fill="none" stroke="#262626" stroke-width="6.6" stroke-dasharray="0.1 30"/>
<polyline points="342,65 342.1,66.3 342.2,69 342.3,72.6 342.6,77 342.8,82.2 343.1,87.9 343.3,94.3 343.7,101.1 344,108.5 344.4,116.3 344.8,124.5 345.2,133.1 345.6,142.1 346.1,151.4 346.6,161 347.1,171 347.6,181.2 348.1,191.7 348.7,202.4 349.2,213.3 349.8,224.5 350.4,235.8 351,247.3 351.7,259 352.3,270.8 353,282.7 353.7,294.8 354.4,307 355.1,319.2 355.8,331.6 356.6,344 357.3,356.5 358.1,369 358.9,381.6 359.7,394.1 360.5,406.7 361.4,419.3 362.2,431.9 363.1,444.5 363.9,457.1 364.8,469.7 365.7,482.2 366.6,494.7 367.5,507.1 368.5,519.6 369.4,532.2 370.4,544.8 371.4,557.2 372.3,569.6 373.3,582 374.4,594.2 375.4,606.3 376.4,618.3 377.4,630.2 378.5,642 379.6,653.7 380.7,665.3 381.7,676.7 382.8,688.1 384,699.2 385.1,710.3 386.2,721.2 387.4,732 388.5,742.7 389.7,753 390.9,763.1 392.1,773.1 393.3,782.9 394.5,792.6 395.7,802.1 396.9,811.5 398.2,820.8 399.4,829.9 400.7,838.8 402,847.6 403.2,856.3 404.5,864.8 405.8,873.2 407.2,881.4 408.5,889.5 409.8,897.4 411.2,905.1 412.5,912.8 413.9,920.2 415.3,927.6 416.6,934.8 418,941.8 419.4,948.7 420.9,955.5 422.3,962.1 423.7,968.6 425.1,975 426.6,981.2 428.1,987.4 429.5,993.4 431,999.3 432.5,1005.1 434,1010.7 435.5,1016.2 437,1021.5 438.5,1026.8 440.1,1031.9 441.6,1036.9 443.2,1041.7 444.7,1046.5 446.3,1051.1 447.9,1055.7 449.5,1060.1 451.1,1064.4 452.7,1068.6 454.3,1072.6 455.9,1076.6 457.5,1080.5 459.2,1084.3 460.8,1087.9 462.5,1091.5 464.1,1095 465.8,1098.4 467.5,1101.6 469.2,1104.8 470.9,1107.9 472.6,1111 474.3,1113.9 476,1116.8 477.8,1119.5 479.5,1122.2 481.3,1124.8 483,1127.4 484.8,1129.8 486.6,1132.2 488.4,1134.6 490.1,1136.8 491.9,1139 493.8,1141.1 495.6,1143.2 497.4,1145.2 499.2,1147.1 501.1,1149 502.9,1150.8 504.8,1152.5 506.6,1154.2 508.5,1155.9 510.4,1157.5 512.3,1159 514.2,1160.5 516.1,1161.9 518,1163.3 519.9,1164.7 521.8,1166 523.8,1167.2 525.7,1168.5 527.7,1169.6 529.6,1170.8 531.6,1171.9 533.6,1172.9 535.5,1174 537.5,1175 539.5,1175.9 541.5,1176.8 543.5,1177.7 545.6,1178.6 547.6,1179.4 549.6,1180.2 551.7,1181 553.7,1181.8 555.8,1182.5 557.8,1183.2 559.9,1183.8 562,1184.5 564.1,1185.1 566.2,1185.7 568.3,1186.3 570.4,1186.8 572.5,1187.4 574.6,1187.9 576.7,1188.4 578.9,1188.8 581,1189.3 583.2,1189.7 585.3,1190.2 587.5,1190.6 589.7,1191 591.9,1191.3 594.1,1191.7 596.2,1192.1 598.4,1192.4 600.7,1192.7 602.9,1193 605.1,1193.3 607.3,1193.6 609.6,1193.9 611.8,1194.1 614.1,1194.4 616.3,1194.6 618.6,1194.9 620.9,1195.1 623.1,1195.3 625.4,1195.5 627.7,1195.7 630,1195.9 632.3,1196.1 634.6,1196.2 637,1196.4 639.3,1196.6 641.6,1196.7 644,1196.9 646.3,1197 648.7,1197.1 651,1197.3 653.4,1197.4 655.8,1197.5 658.2,1197.6 660.6,1197.7 663,1197.8 665.4,1197.9 667.8,1198 670.2,1198.1 672.6,1198.2 675,1198.3 677.5,1198.4 679.9,1198.5 682.4,1198.5 684.8,1198.6 687.3,1198.7 689.8,1198.7 692.2,1198.8 694.7,1198.8 697.2,1198.9 699.7,1198.9 702.2,1199 704.7,1199 707.2,1199.1 709.7,1199.1 712.3,1199.2 714.8,1199.2 717.4,1199.3 719.9,1199.3 722.5,1199.3 725,1199.4 727.6,1199.4 730.2,1199.4 732.7,1199.4 735.3,1199.5 737.9,1199.5 740.5,1199.5 743.1,1199.5 745.7,1199.6 748.4,1199.6 751,1199.6 753.6,1199.6 756.2,1199.7 758.9,1199.7 761.5,1199.7 764.2,1199.7 766.9,1199.7 769.5,1199.7 772.2,1199.7 774.9,1199.8 777.6,1199.8 780.3,1199.8 783,1199.8 785.7,1199.8 788.4,1199.8 791.1,1199.8 793.8,1199.8 796.6,1199.8 799.3,1199.8 802,1199.9 804.8,1199.9 807.5,1199.9 810.3,1199.9 813.1,1199.9 815.8,1199.9 818.6,1199.9 821.4,1199.9 824.2,1199.9 827,1199.9 829.8,1199.9 832.6,1199.9 835.4,1199.9 838.3,1199.9 841.1,1199.9 843.9,1199.9 846.8,1199.9 849.6,1199.9 852.5,1199.9 855.3,1199.9 858.2,1200 861.1,1200 863.9,1200 866.8,1200 869.7,1200 872.6,1200 875.5,1200 878.4,1200 881.3,1200 884.2,1200 887.2,1200 890.1,1200 893,1200 896,1200 898.9,1200 901.9,1200 904.8,1200 907.8,1200 910.8,1200 913.7,1200 916.7,1200 919.7,1200 922.7,1200 925.7,1200 928.7,1200 931.7,1200 934.7,1200 937.8,1200 940.8,1200 943.8,1200 946.9,1200 949.9,1200 953,1200 956,1200 959.1,1200 962.2,1200 965.2,1200 968.3,1200 971.4,1200 974.5,1200 977.6,1200 980.7,1200 983.8,1200 986.9,1200 990,1200 993.2,1200 996.3,1200 999.4,1200 1002.6,1200 1005.7,1200 1008.9,1200 1012,1200 1015.2,1200 1018.4,1200 1021.5,1200 1024.7,1200 1027.9,1200 1031.1,1200 1034.3,1200 1037.5,1200 1040.7,1200 1043.9,1200 1047.2,1200 1050.4,1200 1053.6,1200 1056.9,1200 1060.1,1200 1063.3,1200 1066.6,1200 1069.9,1200 1073.1,1200 1076.4,1200 1079.7,1200 1083,1200 1086.2,1200 1089.5,1200 1092.8,1200 1096.1,1200 1099.4,1200 1102.8,1200 1106.1,1200 1109.4,1200 1112.7,1200 1116.1,1200 1119.4,1200 1122.8,1200 1126.1,1200 1129.5,1200 1132.8,1200 1136.2,1200 1139.6,1200 1142.9,1200 1146.3,1200 1149.7,1200 1153.1,1200 1156.5,1200 1159.9,1200 1163.3,1200 1166.7,1200 1170.2,1200 1173.6,1200 1177,1200 1180.5,1200 1183.9,1200 1187.3,1200 1190.8,1200 1194.3,1200 1197.7,1200 1201.2,1200 1204.7,1200 1208.1,1200 1211.6,1200 1215.1,1200 1218.6,1200 1222.1,1200 1225.6,1200 1229.1,1200 1232.6,1200 1236.2,1200 1239.7,1200 1243.2,1200 1246.8,1200 1250.3,1200 1253.9,1200 1257.4,1200 1261,1200 1264.5,1200 1268.1,1200 1271.7,1200 1275.2,1200 1278.8,1200 1282.4,1200 1286,1200 1289.6,1200 1293.2,1200 1296.8,1200 1300.4,1200 1304.1,1200 1307.7,1200 1311.3,1200 1314.9,1200 1318.6,1200 1322.2,1200 1325.9,1200 1329.5,1200 1333.2,1200 1336.9,1200 1340.5,1200 1344.2,1200 1347.9,1200 1351.6,1200 1355.3,1200 1359,1200 1362.7,1200 1366.4,1200 1370.1,1200 1373.8,1200 1377.5,1200 1381.2,1200 1385,1200 1388.7,1200 1392.4,1200 1396.2,1200 1399.9,1200 1403.7,1200 1407.5,1200 1411.2,1200 1415,1200 1418.8,1200 1422.5,1200 1426.3,1200 1430.1,1200 1433.9,1200 1437.7,1200 1441.5,1200 1445.3,1200 1449.2,1200 1453,1200 1456.8,1200 1460.6,1200 1464.5,1200 1468.3,1200 1472.1,1200 1476,1200 1479.9,1200 1483.7,1200 1487.6,1200 1491.4,1200 1495.3,1200 1499.2,1200 1503.1,1200 1507,1200 1510.9,1200 1514.8,1200 1518.7,1200 1522.6,1200 1526.5,1200 1530.4,1200 1534.3,1200 1538.3,1200 1542.2,1200 1546.1,1200 1550.1,1200 1554,1200 1558,1200 1561.9,1200 1565.9,1200 1569.9,1200 1573.8,1200 1577.8,1200 1581.8,1200 1585.8,1200 1589.8,1200 1593.8,1200 1597.8,1200 1601.8,1200 1605.8,1200 1609.8,1200 1613.8,1200 1617.8,1200 1621.9,1200 1625.9,1200 1629.9,1200 1634,1200 1638,1200 1642.1,1200 1646.1,1200 1650.2,1200 1654.3,1200 1658.3,1200 1662.4,1200 1666.5,1200 1670.6,1200 1674.7,1200 1678.8,1200 1682.9,1200 1687,1200 1691.1,1200 1695.2,1200 1699.3,1200 1703.4,1200 1707.5,1200 1711.7,1200 1715.8,1200 1720,1200 1724.1,1200 1728.3,1200 1732.4,1200 1736.6,1200 1740.7,1200 1744.9,1200 1749.1,1200 1753.3,1200 1757.4,1200 1761.6,1200 1765.8,1200 1770,1200 1774.2,1200 1778.4,1200 1782.6,1200 1786.9,1200 1791.1,1200 1795.3,1200 1799.5,1200 1803.8,1200 1808,1200 1812.3,1200 1816.5,1200 1820.8,1200 1825,1200 1829.3,1200 1833.5,1200 1837.8,1200 1842.1,1200 1846.4,1200 1850.7,1200 1855,1200 1859.2,1200 1863.5,1200 1867.8,1200 1872.2,1200 1876.5,1200 1880.8,1200 1885.1,1200 1889.4,1200 1893.8,1200 1898.1,1200 1902.4,1200 1906.8,1200 1911.1,1200 1915.5,1200 1919.8,1200 1924.2,1200 1928.6,1200 1932.9,1200 1937.3,1200 1941.7,1200 1946.1,1200 1950.5,1200 1954.9,1200 1959.3,1200 1963.7,1200 1968.1,1200 1972.5,1200 1976.9,1200 1981.3,1200 1985.8,1200 1990.2,1200 1994.6,1200 1999.1,1200 2003.5,1200 2007.9,1200 2012.4,1200" fill="none" stroke="#262626" stroke-width="6.6" stroke-dasharray="0.1 30"/>
<polyline points="342,65 342.1,66.4 342.2,69.3 342.3,73.3 342.6,78.1 342.8,83.7 343.1,89.9 343.3,96.8 343.7,104.2 344,112.2 344.4,120.7 344.8,129.6 345.2,138.9 345.6,148.6 346.1,158.7 346.6,169.1 347.1,179.8 347.6,190.8 348.1,202.1 348.7,213.7 349.2,225.4 349.8,237.4 350.4,249.6 351,261.9 351.7,274.4 352.3,287 353,299.8 353.7,312.7 354.4,325.7 355.1,338.7 355.8,351.8 356.6,365 357.3,378.2 358.1,391.5 358.9,404.8 359.7,418.1 360.5,431.4 361.4,444.6 362.2,457.9 363.1,471.1 363.9,484.3 364.8,497.5 365.7,510.5 366.6,523.8 367.5,537.1 368.5,550.3 369.4,563.4 370.4,576.4 371.4,589.4 372.3,602.2 373.3,614.9 374.4,627.5 375.4,639.9 376.4,652.3 377.4,664.5 378.5,676.6 379.6,688.5 380.7,700.3 381.7,711.9 382.8,723.4 384,734.7 385.1,745.9 386.2,756.7 387.4,767.3 388.5,777.7 389.7,788 390.9,798.2 392.1,808.1 393.3,817.9 394.5,827.6 395.7,837.1 396.9,846.4 398.2,855.5 399.4,864.5 400.7,873.3 402,882 403.2,890.4 404.5,898.8 405.8,906.9 407.2,914.9 408.5,922.8 409.8,930.4 411.2,937.9 412.5,945.3 413.9,952.5 415.3,959.5 416.6,966.4 418,973.2 419.4,979.8 420.9,986.4 422.3,992.7 423.7,998.9 425.1,1005 426.6,1010.9 428.1,1016.7 429.5,1022.4 431,1027.9 432.5,1033.2 434,1038.4 435.5,1043.5 437,1048.5 438.5,1053.3 440.1,1058 441.6,1062.6 443.2,1067.1 444.7,1071.4 446.3,1075.6 447.9,1079.7 449.5,1083.7 451.1,1087.6 452.7,1091.4 454.3,1095.1 455.9,1098.6 457.5,1102.1 459.2,1105.4 460.8,1108.7 462.5,1111.8 464.1,1114.9 465.8,1117.9 467.5,1120.8 469.2,1123.6 470.9,1126.3 472.6,1128.9 474.3,1131.5 476,1133.9 477.8,1136.3 479.5,1138.6 481.3,1140.9 483,1143.1 484.8,1145.2 486.6,1147.2 488.4,1149.2 490.1,1151.1 491.9,1152.9 493.8,1154.7 495.6,1156.4 497.4,1158 499.2,1159.6 501.1,1161.2 502.9,1162.7 504.8,1164.1 506.6,1165.5 508.5,1166.9 510.4,1168.2 512.3,1169.4 514.2,1170.6 516.1,1171.8 518,1172.9 519.9,1174 521.8,1175 523.8,1176.1 525.7,1177 527.7,1178 529.6,1178.9 531.6,1179.7 533.6,1180.6 535.5,1181.4 537.5,1182.1 539.5,1182.9 541.5,1183.6 543.5,1184.3 545.6,1184.9 547.6,1185.6 549.6,1186.2 551.7,1186.8 553.7,1187.3 555.8,1187.9 557.8,1188.4 559.9,1188.9 562,1189.4 564.1,1189.8 566.2,1190.3 568.3,1190.7 570.4,1191.1 572.5,1191.5 574.6,1191.9 576.7,1192.2 578.9,1192.6 581,1192.9 583.2,1193.2 585.3,1193.5 587.5,1193.8 589.7,1194.1 591.9,1194.4 594.1,1194.6 596.2,1194.9 598.4,1195.1 600.7,1195.3 602.9,1195.5 605.1,1195.8 607.3,1195.9 609.6,1196.1 611.8,1196.3 614.1,1196.5 616.3,1196.7 618.6,1196.8 620.9,1197 623.1,1197.1 625.4,1197.2 627.7,1197.4 630,1197.5 632.3,1197.6 634.6,1197.7 637,1197.8 639.3,1197.9 641.6,1198 644,1198.1 646.3,1198.2 648.7,1198.3 651,1198.4 653.4,1198.5 655.8,1198.6 658.2,1198.6 660.6,1198.7 663,1198.8 665.4,1198.8 667.8,1198.9 670.2,1198.9 672.6,1199 675,1199 677.5,1199.1 679.9,1199.1 682.4,1199.2 684.8,1199.2 687.3,1199.3 689.8,1199.3 692.2,1199.3 694.7,1199.4 697.2,1199.4 699.7,1199.4 702.2,1199.5 704.7,1199.5 707.2,1199.5 709.7,1199.5 712.3,1199.6 714.8,1199.6 717.4,1199.6 719.9,1199.6 722.5,1199.6 725,1199.7 727.6,1199.7 730.2,1199.7 732.7,1199.7 735.3,1199.7 737.9,1199.7 740.5,1199.8 743.1,1199.8 745.7,1199.8 748.4,1199.8 751,1199.8 753.6,1199.8 756.2,1199.8 758.9,1199.8 761.5,1199.8 764.2,1199.9 766.9,1199.9 769.5,1199.9 772.2,1199.9 774.9,1199.9 777.6,1199.9 780.3,1199.9 783,1199.9 785.7,1199.9 788.4,1199.9 791.1,1199.9 793.8,1199.9 796.6,1199.9 799.3,1199.9 802,1199.9 804.8,1199.9 807.5,1199.9 810.3,1199.9 813.1,1199.9 815.8,1200 818.6,1200 821.4,1200 824.2,1200 827,1200 829.8,1200 832.6,1200 835.4,1200 838.3,1200 841.1,1200 843.9,1200 846.8,1200 849.6,1200 852.5,1200 855.3,1200 858.2,1200 861.1,1200 863.9,1200 866.8,1200 869.7,1200 872.6,1200 875.5,1200 878.4,1200 881.3,1200 884.2,1200 887.2,1200 890.1,1200 893,1200 896,1200 898.9,1200 901.9,1200 904.8,1200 907.8,1200 910.8,1200 913.7,1200 916.7,1200 919.7,1200 922.7,1200 925.7,1200 928.7,1200 931.7,1200 934.7,1200 937.8,1200 940.8,1200 943.8,1200 946.9,1200 949.9,1200 953,1200 956,1200 959.1,1200 962.2,1200 965.2,1200 968.3,1200 971.4,1200 974.5,1200 977.6,1200 980.7,1200 983.8,1200 986.9,1200 990,1200 993.2,1200 996.3,1200 999.4,1200 1002.6,1200 1005.7,1200 1008.9,1200 1012,1200 1015.2,1200 1018.4,1200 1021.5,1200 1024.7,1200 1027.9,1200 1031.1,1200 1034.3,1200 1037.5,1200 1040.7,1200 1043.9,1200 1047.2,1200 1050.4,1200 1053.6,1200 1056.9,1200 1060.1,1200 1063.3,1200 1066.6,1200 1069.9,1200 1073.1,1200 1076.4,1200 1079.7,1200 1083,1200 1086.2,1200 1089.5,1200 1092.8,1200 1096.1,1200 1099.4,1200 1102.8,1200 1106.1,1200 1109.4,1200 1112.7,1200 1116.1,1200 1119.4,1200 1122.8,1200 1126.1,1200 1129.5,1200 1132.8,1200 1136.2,1200 1139.6,1200 1142.9,1200 1146.3,1200 1149.7,1200 1153.1,1200 1156.5,1200 1159.9,1200 1163.3,1200 1166.7,1200 1170.2,1200 1173.6,1200 1177,1200 1180.5,1200 1183.9,1200 1187.3,1200 1190.8,1200 1194.3,1200 1197.7,1200 1201.2,1200 1204.7,1200 1208.1,1200 1211.6,1200 1215.1,1200 1218.6,1200 1222.1,1200 1225.6,1200 1229.1,1200 1232.6,1200 1236.2,1200 1239.7,1200 1243.2,1200 1246.8,1200 1250.3,1200 1253.9,1200 1257.4,1200 1261,1200 1264.5,1200 1268.1,1200 1271.7,1200 1275.2,1200 1278.8,1200 1282.4,1200 1286,1200 1289.6,1200 1293.2,1200 1296.8,1200 1300.4,1200 1304.1,1200 1307.7,1200 1311.3,1200 1314.9,1200 1318.6,1200 1322.2,1200 1325.9,1200 1329.5,1200 1333.2,1200 1336.9,1200 1340.5,1200 1344.2,1200 1347.9,1200 1351.6,1200 1355.3,1200 1359,1200 1362.7,1200 1366.4,1200 1370.1,1200 1373.8,1200 1377.5,1200 1381.2,1200 1385,1200 1388.7,1200 1392.4,1200 1396.2,1200 1399.9,1200 1403.7,1200 1407.5,1200 1411.2,1200 1415,1200 1418.8,1200 1422.5,1200 1426.3,1200 1430.1,1200 1433.9,1200 1437.7,1200 1441.5,1200 1445.3,1200 1449.2,1200 1453,1200 1456.8,1200 1460.6,1200 1464.5,1200 1468.3,1200 1472.1,1200 1476,1200 1479.9,1200 1483.7,1200 1487.6,1200 1491.4,1200 1495.3,1200 1499.2,1200 1503.1,1200 1507,1200 1510.9,1200 1514.8,1200 1518.7,1200 1522.6,1200 1526.5,1200 1530.4,1200 1534.3,1200 1538.3,1200 1542.2,1200 1546.1,1200 1550.1,1200 1554,1200 1558,1200 1561.9,1200 1565.9,1200 1569.9,1200 1573.8,1200 1577.8,1200 1581.8,1200 1585.8,1200 1589.8,1200 1593.8,1200 1597.8,1200 1601.8,1200 1605.8,1200 1609.8,1200 1613.8,1200 1617.8,1200 1621.9,1200 1625.9,1200 1629.9,1200 1634,1200 1638,1200 1642.1,1200 1646.1,1200 1650.2,1200 1654.3,1200 1658.3,1200 1662.4,1200 1666.5,1200 1670.6,1200 1674.7,1200 1678.8,1200 1682.9,1200 1687,1200 1691.1,1200 1695.2,1200 1699.3,1200 1703.4,1200 1707.5,1200 1711.7,1200 1715.8,1200 1720,1200 1724.1,1200 1728.3,1200 1732.4,1200 1736.6,1200 1740.7,1200 1744.9,1200 1749.1,1200 1753.3,1200 1757.4,1200 1761.6,1200 1765.8,1200 1770,1200 1774.2,1200 1778.4,1200 1782.6,1200 1786.9,1200 1791.1,1200 1795.3,1200 1799.5,1200 1803.8,1200 1808,1200 1812.3,1200 1816.5,1200 1820.8,1200 1825,1200 1829.3,1200 1833.5,1200 1837.8,1200 1842.1,1200 1846.4,1200 1850.7,1200 1855,1200 1859.2,1200 1863.5,1200 1867.8,1200 1872.2,1200 1876.5,1200 1880.8,1200 1885.1,1200 1889.4,1200 1893.8,1200 1898.1,1200 1902.4,1200 1906.8,1200 1911.1,1200 1915.5,1200 1919.8,1200 1924.2,1200 1928.6,1200 1932.9,1200 1937.3,1200 1941.7,1200 1946.1,1200 1950.5,1200 1954.9,1200 1959.3,1200 1963.7,1200 1968.1,1200 1972.5,1200 1976.9,1200 1981.3,1200 1985.8,1200 1990.2,1200 1994.6,1200 1999.1,1200 2003.5,1200 2007.9,1200 2012.4,1200" fill="none" stroke="#262626" stroke-width="6.6" stroke-dasharray="0.1 30"/>
</g>
<polyline points="354.6,2628 424.1,2584.8 493.6,2561.8 632.6,2414.9 771.6,2334.4 980.1,2160.2 1188.6,2272.6 1397.1,2331.6 1605.6,2449.4 1814.1,2533 2022.6,2593.4" fill="none" stroke="#c01c1c" stroke-width="4.5" stroke-dasharray="12 19"/>
<polyline points="354.6,2628 424.1,2628 493.6,2628 632.6,2628 771.6,2628 980.1,2567.5 1188.6,2527.2 1397.1,2570.4 1605.6,2584.8 1814.1,2584.8 2022.6,2590.6" fill="none" stroke="#222222" stroke-width="4.5" stroke-dasharray="12 19"/>
<polyline points="493.6,2616.5 632.6,2610.7 771.6,2605 980.1,2501.3 1188.6,2289.4 1397.1,2350.1 1605.6,2414.9 1814.1,2437.9 2022.6,2450.9" fill="none" stroke="#222222" stroke-width="4.5" stroke-dasharray="12 19"/>
<polyline points="354.6,2628 424.1,2603.5 493.6,2558.9 632.6,2478.2 771.6,2427.8 980.1,2404.8 1188.6,2466.7 1397.1,2548.8 1605.6,2583.4 1814.1,2605 2022.6,2607.8" fill="none" stroke="#d77a2e" stroke-width="4.5" stroke-dasharray="12 19"/>
<polyline points="354.6,2628 424.1,2377.4 493.6,2236 632.6,2236 771.6,2297.8 980.1,2459.5 1188.6,2628 1397.1,2628 1605.6,2628 1814.1,2628 2022.6,2628" fill="none" stroke="#d83a3a" stroke-width="4.5" stroke-dasharray="12 19"/>
<polyline points="354.6,2628 424.1,2603.5 493.6,2535.8 632.6,2281 771.6,2118 980.1,1683.9 1188.6,1723.2 1397.1,2095.5 1605.6,2397.6 1814.1,2535.8 2022.6,2593.4" fill="none" stroke="#7d2e8e" stroke-width="4.5" stroke-dasharray="12 19"/>
<polyline points="354.6,2628 424.1,2426.4 493.6,2278.2 632.6,2115.2 771.6,2118 980.1,2297.8 1188.6,2492.6 1397.1,2619.4 1605.6,2610.7 1814.1,2607.8 2022.6,2615" fill="none" stroke="#222222" stroke-width="4.5" stroke-dasharray="12 19"/>
<polyline points="354.6,2628 424.1,2586.2 493.6,2495.5 632.6,2414.9 771.6,2400.5 980.1,2504.2 1188.6,2628 1397.1,2628 1605.6,2628 1814.1,2628 2022.6,2628" fill="none" stroke="#00c83c" stroke-width="4.5" stroke-dasharray="12 19"/>
<polyline points="354.6,2628 424.1,2603.5 493.6,2575.3 632.6,2538.7 771.6,2527.2 980.1,2567.5 1188.6,2628 1397.1,2628 1605.6,2628 1814.1,2628 2022.6,2628" fill="none" stroke="#ff5a5a" stroke-width="4.5" stroke-dasharray="12 19"/>
<polyline points="354.6,2628 424.1,2557.2 493.6,2426.4 632.6,2061.8 771.6,1791.2 980.1,1762.6 1188.6,2177 1397.1,2466.7 1605.6,2512.8 1814.1,2569 2022.6,2581.9" fill="none" stroke="#1ba2c2" stroke-width="4.5" stroke-dasharray="12 19"/>
<polyline points="354.6,2628 424.1,2581.9 493.6,2512.8 632.6,2383.2 771.6,2317.5 980.1,2347.2 1188.6,2492.6 1397.1,2570.4 1605.6,2599.2 1814.1,2605 2022.6,2610.7" fill="none" stroke="#222222" stroke-width="4.5" stroke-dasharray="12 19"/>
<line x1="342" y1="61.5" x2="342" y2="1204.8" stroke="#000" stroke-width="6.9"/>
<line x1="338.6" y1="1201.3" x2="2047" y2="1201.3" stroke="#000" stroke-width="6.9"/>
<line x1="342" y1="65" x2="2046" y2="65" stroke="#000" stroke-width="6.9"/>
<line x1="2038" y1="65" x2="2038" y2="1201.3" stroke="#000" stroke-width="6.9"/>
<line x1="321.5" y1="1200" x2="342" y2="1200" stroke="#000" stroke-width="6.9"/>
<text transform="translate(311 1222) scale(1 1.035)" font-size="73" text-anchor="end" font-weight="normal" stroke="#000" stroke-width="2" stroke-linejoin="round">0.0</text>
<line x1="321.5" y1="971.5" x2="342" y2="971.5" stroke="#000" stroke-width="6.9"/>
<text transform="translate(311 993.5) scale(1 1.035)" font-size="73" text-anchor="end" font-weight="normal" stroke="#000" stroke-width="2" stroke-linejoin="round">0.2</text>
<line x1="321.5" y1="746" x2="342" y2="746" stroke="#000" stroke-width="6.9"/>
<text transform="translate(311 768) scale(1 1.035)" font-size="73" text-anchor="end" font-weight="normal" stroke="#000" stroke-width="2" stroke-linejoin="round">0.4</text>
<line x1="321.5" y1="515" x2="342" y2="515" stroke="#000" stroke-width="6.9"/>
<text transform="translate(311 537) scale(1 1.035)" font-size="73" text-anchor="end" font-weight="normal" stroke="#000" stroke-width="2" stroke-linejoin="round">0.6</text>
<line x1="321.5" y1="290" x2="342" y2="290" stroke="#000" stroke-width="6.9"/>
<text transform="translate(311 312) scale(1 1.035)" font-size="73" text-anchor="end" font-weight="normal" stroke="#000" stroke-width="2" stroke-linejoin="round">0.8</text>
<line x1="321.5" y1="65" x2="342" y2="65" stroke="#000" stroke-width="6.9"/>
<text transform="translate(311 87) scale(1 1.035)" font-size="73" text-anchor="end" font-weight="normal" stroke="#000" stroke-width="2" stroke-linejoin="round">1.0</text>
<line x1="342" y1="1201.3" x2="342" y2="1221.3" stroke="#000" stroke-width="6.9"/>
<text transform="translate(339 1295) scale(1 1.035)" font-size="73" text-anchor="middle" font-weight="normal" stroke="#000" stroke-width="2" stroke-linejoin="round">0</text>
<line x1="481.2" y1="1201.3" x2="481.2" y2="1221.3" stroke="#000" stroke-width="6.9"/>
<text transform="translate(478.2 1295) scale(1 1.035)" font-size="73" text-anchor="middle" font-weight="normal" stroke="#000" stroke-width="2" stroke-linejoin="round">10</text>
<line x1="620.4" y1="1201.3" x2="620.4" y2="1221.3" stroke="#000" stroke-width="6.9"/>
<text transform="translate(617.4 1295) scale(1 1.035)" font-size="73" text-anchor="middle" font-weight="normal" stroke="#000" stroke-width="2" stroke-linejoin="round">20</text>
<line x1="759.6" y1="1201.3" x2="759.6" y2="1221.3" stroke="#000" stroke-width="6.9"/>
<text transform="translate(756.6 1295) scale(1 1.035)" font-size="73" text-anchor="middle" font-weight="normal" stroke="#000" stroke-width="2" stroke-linejoin="round">30</text>
<line x1="898.8" y1="1201.3" x2="898.8" y2="1221.3" stroke="#000" stroke-width="6.9"/>
<text transform="translate(895.8 1295) scale(1 1.035)" font-size="73" text-anchor="middle" font-weight="normal" stroke="#000" stroke-width="2" stroke-linejoin="round">40</text>
<line x1="1038" y1="1201.3" x2="1038" y2="1221.3" stroke="#000" stroke-width="6.9"/>
<text transform="translate(1035 1295) scale(1 1.035)" font-size="73" text-anchor="middle" font-weight="normal" stroke="#000" stroke-width="2" stroke-linejoin="round">50</text>
<line x1="1177.2" y1="1201.3" x2="1177.2" y2="1221.3" stroke="#000" stroke-width="6.9"/>
<text transform="translate(1174.2 1295) scale(1 1.035)" font-size="73" text-anchor="middle" font-weight="normal" stroke="#000" stroke-width="2" stroke-linejoin="round">60</text>
<line x1="1316.4" y1="1201.3" x2="1316.4" y2="1221.3" stroke="#000" stroke-width="6.9"/>
<text transform="translate(1313.4 1295) scale(1 1.035)" font-size="73" text-anchor="middle" font-weight="normal" stroke="#000" stroke-width="2" stroke-linejoin="round">70</text>
<line x1="1455.6" y1="1201.3" x2="1455.6" y2="1221.3" stroke="#000" stroke-width="6.9"/>
<text transform="translate(1452.6 1295) scale(1 1.035)" font-size="73" text-anchor="middle" font-weight="normal" stroke="#000" stroke-width="2" stroke-linejoin="round">80</text>
<line x1="1594.8" y1="1201.3" x2="1594.8" y2="1221.3" stroke="#000" stroke-width="6.9"/>
<text transform="translate(1591.8 1295) scale(1 1.035)" font-size="73" text-anchor="middle" font-weight="normal" stroke="#000" stroke-width="2" stroke-linejoin="round">90</text>
<line x1="1734" y1="1201.3" x2="1734" y2="1221.3" stroke="#000" stroke-width="6.9"/>
<text transform="translate(1731 1295) scale(1 1.035)" font-size="73" text-anchor="middle" font-weight="normal" stroke="#000" stroke-width="2" stroke-linejoin="round">100</text>
<line x1="1873.2" y1="1201.3" x2="1873.2" y2="1221.3" stroke="#000" stroke-width="6.9"/>
<text transform="translate(1870.2 1295) scale(1 1.035)" font-size="73" text-anchor="middle" font-weight="normal" stroke="#000" stroke-width="2" stroke-linejoin="round">110</text>
<line x1="2012.4" y1="1201.3" x2="2012.4" y2="1221.3" stroke="#000" stroke-width="6.9"/>
<text transform="translate(2009.4 1295) scale(1 1.035)" font-size="73" text-anchor="middle" font-weight="normal" stroke="#000" stroke-width="2" stroke-linejoin="round">120</text>
<line x1="354.7" y1="1486.8" x2="354.7" y2="2631.8" stroke="#000" stroke-width="6.9"/>
<line x1="351.2" y1="2628.3" x2="2058.8" y2="2628.3" stroke="#000" stroke-width="6.9"/>
<line x1="354.7" y1="1490.3" x2="2054.2" y2="1490.3" stroke="#000" stroke-width="6.9"/>
<line x1="2050.8" y1="1480.3" x2="2050.8" y2="2628.3" stroke="#000" stroke-width="6.9"/>
<line x1="334.2" y1="2628" x2="354.7" y2="2628" stroke="#000" stroke-width="6.9"/>
<text transform="translate(322 2649) scale(1 1.035)" font-size="73" text-anchor="end" font-weight="normal" stroke="#000" stroke-width="2" stroke-linejoin="round">0</text>
<line x1="334.2" y1="2340" x2="354.7" y2="2340" stroke="#000" stroke-width="6.9"/>
<text transform="translate(322 2361) scale(1 1.035)" font-size="73" text-anchor="end" font-weight="normal" stroke="#000" stroke-width="2" stroke-linejoin="round">10</text>
<line x1="334.2" y1="2059" x2="354.7" y2="2059" stroke="#000" stroke-width="6.9"/>
<text transform="translate(322 2080) scale(1 1.035)" font-size="73" text-anchor="end" font-weight="normal" stroke="#000" stroke-width="2" stroke-linejoin="round">20</text>
<line x1="334.2" y1="1771" x2="354.7" y2="1771" stroke="#000" stroke-width="6.9"/>
<text transform="translate(322 1792) scale(1 1.035)" font-size="73" text-anchor="end" font-weight="normal" stroke="#000" stroke-width="2" stroke-linejoin="round">30</text>
<line x1="334.2" y1="1490" x2="354.7" y2="1490" stroke="#000" stroke-width="6.9"/>
<text transform="translate(322 1511) scale(1 1.035)" font-size="73" text-anchor="end" font-weight="normal" stroke="#000" stroke-width="2" stroke-linejoin="round">40</text>
<line x1="354.6" y1="2628.3" x2="354.6" y2="2648.3" stroke="#000" stroke-width="6.9"/>
<text transform="translate(350.6 2722) scale(1 1.035)" font-size="73" text-anchor="middle" font-weight="normal" stroke="#000" stroke-width="2" stroke-linejoin="round">0</text>
<line x1="493.6" y1="2628.3" x2="493.6" y2="2648.3" stroke="#000" stroke-width="6.9"/>
<text transform="translate(489.6 2722) scale(1 1.035)" font-size="73" text-anchor="middle" font-weight="normal" stroke="#000" stroke-width="2" stroke-linejoin="round">10</text>
<line x1="632.6" y1="2628.3" x2="632.6" y2="2648.3" stroke="#000" stroke-width="6.9"/>
<text transform="translate(628.6 2722) scale(1 1.035)" font-size="73" text-anchor="middle" font-weight="normal" stroke="#000" stroke-width="2" stroke-linejoin="round">20</text>
<line x1="771.6" y1="2628.3" x2="771.6" y2="2648.3" stroke="#000" stroke-width="6.9"/>
<text transform="translate(767.6 2722) scale(1 1.035)" font-size="73" text-anchor="middle" font-weight="normal" stroke="#000" stroke-width="2" stroke-linejoin="round">30</text>
<line x1="910.6" y1="2628.3" x2="910.6" y2="2648.3" stroke="#000" stroke-width="6.9"/>
<text transform="translate(906.6 2722) scale(1 1.035)" font-size="73" text-anchor="middle" font-weight="normal" stroke="#000" stroke-width="2" stroke-linejoin="round">40</text>
<line x1="1049.6" y1="2628.3" x2="1049.6" y2="2648.3" stroke="#000" stroke-width="6.9"/>
<text transform="translate(1045.6 2722) scale(1 1.035)" font-size="73" text-anchor="middle" font-weight="normal" stroke="#000" stroke-width="2" stroke-linejoin="round">50</text>
<line x1="1188.6" y1="2628.3" x2="1188.6" y2="2648.3" stroke="#000" stroke-width="6.9"/>
<text transform="translate(1184.6 2722) scale(1 1.035)" font-size="73" text-anchor="middle" font-weight="normal" stroke="#000" stroke-width="2" stroke-linejoin="round">60</text>
<line x1="1327.6" y1="2628.3" x2="1327.6" y2="2648.3" stroke="#000" stroke-width="6.9"/>
<text transform="translate(1323.6 2722) scale(1 1.035)" font-size="73" text-anchor="middle" font-weight="normal" stroke="#000" stroke-width="2" stroke-linejoin="round">70</text>
<line x1="1466.6" y1="2628.3" x2="1466.6" y2="2648.3" stroke="#000" stroke-width="6.9"/>
<text transform="translate(1462.6 2722) scale(1 1.035)" font-size="73" text-anchor="middle" font-weight="normal" stroke="#000" stroke-width="2" stroke-linejoin="round">80</text>
<line x1="1605.6" y1="2628.3" x2="1605.6" y2="2648.3" stroke="#000" stroke-width="6.9"/>
<text transform="translate(1601.6 2722) scale(1 1.035)" font-size="73" text-anchor="middle" font-weight="normal" stroke="#000" stroke-width="2" stroke-linejoin="round">90</text>
<line x1="1744.6" y1="2628.3" x2="1744.6" y2="2648.3" stroke="#000" stroke-width="6.9"/>
<text transform="translate(1740.6 2722) scale(1 1.035)" font-size="73" text-anchor="middle" font-weight="normal" stroke="#000" stroke-width="2" stroke-linejoin="round">100</text>
<line x1="1883.6" y1="2628.3" x2="1883.6" y2="2648.3" stroke="#000" stroke-width="6.9"/>
<text transform="translate(1879.6 2722) scale(1 1.035)" font-size="73" text-anchor="middle" font-weight="normal" stroke="#000" stroke-width="2" stroke-linejoin="round">110</text>
<line x1="2022.6" y1="2628.3" x2="2022.6" y2="2648.3" stroke="#000" stroke-width="6.9"/>
<text transform="translate(2018.6 2722) scale(1 1.035)" font-size="73" text-anchor="middle" font-weight="normal" stroke="#000" stroke-width="2" stroke-linejoin="round">120</text>
<text transform="translate(2017 170) scale(1 1.035)" font-size="102" text-anchor="end" font-weight="bold" stroke="#fff" stroke-width="1.4">A</text>
<text transform="translate(387 1612) scale(1 1.035)" font-size="102" text-anchor="start" font-weight="bold" stroke="#fff" stroke-width="1.2">B</text>
<text transform="translate(702 1437.5) scale(1 1.035)" font-size="95" text-anchor="start" font-weight="bold" stroke="#fff" stroke-width="1.1">Photolysis Time (min)</text>
<text transform="translate(695 2864) scale(1 1.035)" font-size="94.5" text-anchor="start" font-weight="bold" stroke="#fff" stroke-width="1.1">Photolysis Time (min)</text>
<text transform="translate(125,2408) rotate(-90)" font-size="98" font-weight="bold" stroke="#fff" stroke-width="1.8">Integrated Area</text>
<text transform="translate(118,719.5) rotate(-90)" font-size="100" font-weight="bold">C<tspan font-weight="normal">/</tspan>C<tspan font-size="72" dy="22">0</tspan></text>
<rect x="330.2" y="1188.2" width="23.5" height="23.5" fill="none" stroke="#000" stroke-width="6"/>
<rect x="399.9" y="925.2" width="23.5" height="23.5" fill="none" stroke="#000" stroke-width="6"/>
<rect x="469.4" y="867.2" width="23.5" height="23.5" fill="none" stroke="#000" stroke-width="6"/>
<rect x="608.6" y="848.5" width="23.5" height="23.5" fill="none" stroke="#000" stroke-width="6"/>
<rect x="747.9" y="844.8" width="23.5" height="23.5" fill="none" stroke="#000" stroke-width="6"/>
<rect x="956.6" y="884.2" width="23.5" height="23.5" fill="none" stroke="#000" stroke-width="6"/>
<rect x="1165.5" y="919" width="23.5" height="23.5" fill="none" stroke="#000" stroke-width="6"/>
<rect x="1374.2" y="966.9" width="23.5" height="23.5" fill="none" stroke="#000" stroke-width="6"/>
<rect x="1583" y="1026.8" width="23.5" height="23.5" fill="none" stroke="#000" stroke-width="6"/>
<rect x="1791.8" y="1072" width="23.5" height="23.5" fill="none" stroke="#000" stroke-width="6"/>
<rect x="2000.7" y="1117" width="23.5" height="23.5" fill="none" stroke="#000" stroke-width="6"/>
<circle cx="342" cy="1200" r="12" fill="#c00000" stroke="#000" stroke-width="3.8"/>
<circle cx="411.6" cy="786.5" r="12" fill="#c00000" stroke="#000" stroke-width="3.8"/>
<circle cx="481.2" cy="764.7" r="12" fill="#c00000" stroke="#000" stroke-width="3.8"/>
<circle cx="620.4" cy="829.3" r="12" fill="#c00000" stroke="#000" stroke-width="3.8"/>
<circle cx="759.6" cy="956" r="12" fill="#c00000" stroke="#000" stroke-width="3.8"/>
<circle cx="968.4" cy="1091.4" r="12" fill="#c00000" stroke="#000" stroke-width="3.8"/>
<circle cx="1177.2" cy="1164.4" r="12" fill="#c00000" stroke="#000" stroke-width="3.8"/>
<circle cx="1386" cy="1180" r="12" fill="#c00000" stroke="#000" stroke-width="3.8"/>
<circle cx="1594.8" cy="1182.2" r="12" fill="#c00000" stroke="#000" stroke-width="3.8"/>
<circle cx="1803.6" cy="1185.5" r="12" fill="#c00000" stroke="#000" stroke-width="3.8"/>
<circle cx="2012.4" cy="1196" r="12" fill="#c00000" stroke="#000" stroke-width="3.8"/>
<circle cx="342" cy="65" r="15.5" fill="#000"/>
<circle cx="411.6" cy="923" r="15.5" fill="#000"/>
<circle cx="481.2" cy="1148.9" r="15.5" fill="#000"/>
<circle cx="620.4" cy="1188" r="15.5" fill="#000"/>
<circle cx="759.6" cy="1192" r="15.5" fill="#000"/>
<circle cx="968.4" cy="1200" r="15.5" fill="#000"/>
<circle cx="1177.2" cy="1200" r="15.5" fill="#000"/>
<circle cx="1386" cy="1200" r="15.5" fill="#000"/>
<circle cx="1594.8" cy="1200" r="15.5" fill="#000"/>
<circle cx="1803.6" cy="1200" r="15.5" fill="#000"/>
<circle cx="2012.4" cy="1196" r="15.5" fill="#000"/>
<circle cx="354.6" cy="2628" r="15" fill="#c80000"/>
<circle cx="424.1" cy="2584.8" r="15" fill="#c80000"/>
<circle cx="493.6" cy="2561.8" r="15" fill="#c80000"/>
<circle cx="632.6" cy="2414.9" r="15" fill="#c80000"/>
<circle cx="771.6" cy="2334.4" r="15" fill="#c80000"/>
<circle cx="980.1" cy="2160.2" r="15" fill="#c80000"/>
<circle cx="1188.6" cy="2272.6" r="15" fill="#c80000"/>
<circle cx="1397.1" cy="2331.6" r="15" fill="#c80000"/>
<circle cx="1605.6" cy="2449.4" r="15" fill="#c80000"/>
<circle cx="1814.1" cy="2533" r="15" fill="#c80000"/>
<circle cx="2022.6" cy="2593.4" r="15" fill="#c80000"/>
<path d="M342.6 2616L366.6 2640M342.6 2640L366.6 2616" stroke="#3a3a3a" stroke-width="3.2" fill="none"/>
<path d="M412.1 2616L436.1 2640M412.1 2640L436.1 2616" stroke="#3a3a3a" stroke-width="3.2" fill="none"/>
<path d="M481.6 2616L505.6 2640M481.6 2640L505.6 2616" stroke="#3a3a3a" stroke-width="3.2" fill="none"/>
<path d="M620.6 2616L644.6 2640M620.6 2640L644.6 2616" stroke="#3a3a3a" stroke-width="3.2" fill="none"/>
<path d="M759.6 2616L783.6 2640M759.6 2640L783.6 2616" stroke="#3a3a3a" stroke-width="3.2" fill="none"/>
<path d="M968.1 2555.5L992.1 2579.5M968.1 2579.5L992.1 2555.5" stroke="#3a3a3a" stroke-width="3.2" fill="none"/>
<path d="M1176.6 2515.2L1200.6 2539.2M1176.6 2539.2L1200.6 2515.2" stroke="#3a3a3a" stroke-width="3.2" fill="none"/>
<path d="M1385.1 2558.4L1409.1 2582.4M1385.1 2582.4L1409.1 2558.4" stroke="#3a3a3a" stroke-width="3.2" fill="none"/>
<path d="M1593.6 2572.8L1617.6 2596.8M1593.6 2596.8L1617.6 2572.8" stroke="#3a3a3a" stroke-width="3.2" fill="none"/>
<path d="M1802.1 2572.8L1826.1 2596.8M1802.1 2596.8L1826.1 2572.8" stroke="#3a3a3a" stroke-width="3.2" fill="none"/>
<path d="M2010.6 2578.6L2034.6 2602.6M2010.6 2602.6L2034.6 2578.6" stroke="#3a3a3a" stroke-width="3.2" fill="none"/>
<circle cx="632.6" cy="2610.7" r="15" fill="#000000"/>
<circle cx="771.6" cy="2605" r="15" fill="#000000"/>
<circle cx="980.1" cy="2501.3" r="15" fill="#000000"/>
<circle cx="1188.6" cy="2289.4" r="15" fill="#000000"/>
<circle cx="1397.1" cy="2350.1" r="15" fill="#000000"/>
<circle cx="1605.6" cy="2414.9" r="15" fill="#000000"/>
<circle cx="1814.1" cy="2437.9" r="15" fill="#000000"/>
<circle cx="2022.6" cy="2450.9" r="15" fill="#000000"/>
<rect x="340.1" y="2612.5" width="29" height="31" rx="2" fill="#ff8000" stroke="#e06a00" stroke-width="2.5"/>
<rect x="409.6" y="2588" width="29" height="31" rx="2" fill="#ff8000" stroke="#e06a00" stroke-width="2.5"/>
<rect x="479.1" y="2543.4" width="29" height="31" rx="2" fill="#ff8000" stroke="#e06a00" stroke-width="2.5"/>
<rect x="618.1" y="2462.7" width="29" height="31" rx="2" fill="#ff8000" stroke="#e06a00" stroke-width="2.5"/>
<rect x="757.1" y="2412.3" width="29" height="31" rx="2" fill="#ff8000" stroke="#e06a00" stroke-width="2.5"/>
<rect x="965.6" y="2389.3" width="29" height="31" rx="2" fill="#ff8000" stroke="#e06a00" stroke-width="2.5"/>
<rect x="1174.1" y="2451.2" width="29" height="31" rx="2" fill="#ff8000" stroke="#e06a00" stroke-width="2.5"/>
<rect x="1382.6" y="2533.3" width="29" height="31" rx="2" fill="#ff8000" stroke="#e06a00" stroke-width="2.5"/>
<rect x="1591.1" y="2567.9" width="29" height="31" rx="2" fill="#ff8000" stroke="#e06a00" stroke-width="2.5"/>
<rect x="1799.6" y="2589.5" width="29" height="31" rx="2" fill="#ff8000" stroke="#e06a00" stroke-width="2.5"/>
<rect x="2008.1" y="2592.3" width="29" height="31" rx="2" fill="#ff8000" stroke="#e06a00" stroke-width="2.5"/>
<polygon points="354.6,2609 371.6,2628 354.6,2647 337.6,2628" fill="#ff0000"/>
<polygon points="424.1,2358.4 441.1,2377.4 424.1,2396.4 407.1,2377.4" fill="#ff0000"/>
<polygon points="493.6,2217 510.6,2236 493.6,2255 476.6,2236" fill="#ff0000"/>
<polygon points="632.6,2217 649.6,2236 632.6,2255 615.6,2236" fill="#ff0000"/>
<polygon points="771.6,2278.8 788.6,2297.8 771.6,2316.8 754.6,2297.8" fill="#ff0000"/>
<polygon points="980.1,2440.5 997.1,2459.5 980.1,2478.5 963.1,2459.5" fill="#ff0000"/>
<polygon points="1188.6,2609 1205.6,2628 1188.6,2647 1171.6,2628" fill="#ff0000"/>
<polygon points="1397.1,2609 1414.1,2628 1397.1,2647 1380.1,2628" fill="#ff0000"/>
<polygon points="1605.6,2609 1622.6,2628 1605.6,2647 1588.6,2628" fill="#ff0000"/>
<polygon points="1814.1,2609 1831.1,2628 1814.1,2647 1797.1,2628" fill="#ff0000"/>
<polygon points="2022.6,2609 2039.6,2628 2022.6,2647 2005.6,2628" fill="#ff0000"/>
<rect x="339.1" y="2611.5" width="31" height="33" fill="#9000b0"/>
<rect x="408.6" y="2587" width="31" height="33" fill="#9000b0"/>
<rect x="478.1" y="2519.3" width="31" height="33" fill="#9000b0"/>
<rect x="617.1" y="2264.5" width="31" height="33" fill="#9000b0"/>
<rect x="756.1" y="2101.5" width="31" height="33" fill="#9000b0"/>
<rect x="964.6" y="1667.4" width="31" height="33" fill="#9000b0"/>
<rect x="1173.1" y="1706.7" width="31" height="33" fill="#9000b0"/>
<rect x="1381.6" y="2079" width="31" height="33" fill="#9000b0"/>
<rect x="1590.1" y="2381.1" width="31" height="33" fill="#9000b0"/>
<rect x="1798.6" y="2519.3" width="31" height="33" fill="#9000b0"/>
<rect x="2007.1" y="2576.9" width="31" height="33" fill="#9000b0"/>
<polygon points="339.6,2616.4 369.6,2616.4 354.6,2645.4" fill="#000000"/>
<polygon points="409.1,2414.8 439.1,2414.8 424.1,2443.8" fill="#000000"/>
<polygon points="478.6,2266.6 508.6,2266.6 493.6,2295.6" fill="#000000"/>
<polygon points="617.6,2103.6 647.6,2103.6 632.6,2132.6" fill="#000000"/>
<polygon points="756.6,2106.4 786.6,2106.4 771.6,2135.4" fill="#000000"/>
<polygon points="965.1,2286.2 995.1,2286.2 980.1,2315.2" fill="#000000"/>
<polygon points="1173.6,2481 1203.6,2481 1188.6,2510" fill="#000000"/>
<polygon points="1382.1,2607.8 1412.1,2607.8 1397.1,2636.8" fill="#000000"/>
<polygon points="1590.6,2599.1 1620.6,2599.1 1605.6,2628.1" fill="#000000"/>
<polygon points="1799.1,2596.2 1829.1,2596.2 1814.1,2625.2" fill="#000000"/>
<polygon points="2007.6,2603.4 2037.6,2603.4 2022.6,2632.4" fill="#000000"/>
<polygon points="354.6,2609.4 370.6,2640.4 338.6,2640.4" fill="#00ff22"/>
<polygon points="424.1,2567.6 440.1,2598.6 408.1,2598.6" fill="#00ff22"/>
<polygon points="493.6,2476.9 509.6,2507.9 477.6,2507.9" fill="#00ff22"/>
<polygon points="632.6,2396.3 648.6,2427.3 616.6,2427.3" fill="#00ff22"/>
<polygon points="771.6,2381.9 787.6,2412.9 755.6,2412.9" fill="#00ff22"/>
<polygon points="980.1,2485.6 996.1,2516.6 964.1,2516.6" fill="#00ff22"/>
<polygon points="1188.6,2609.4 1204.6,2640.4 1172.6,2640.4" fill="#00ff22"/>
<polygon points="1397.1,2609.4 1413.1,2640.4 1381.1,2640.4" fill="#00ff22"/>
<polygon points="1605.6,2609.4 1621.6,2640.4 1589.6,2640.4" fill="#00ff22"/>
<polygon points="1814.1,2609.4 1830.1,2640.4 1798.1,2640.4" fill="#00ff22"/>
<polygon points="2022.6,2609.4 2038.6,2640.4 2006.6,2640.4" fill="#00ff22"/>
<polygon points="354.6,2609.4 370.6,2640.4 338.6,2640.4" fill="#ff4444"/>
<polygon points="424.1,2584.9 440.1,2615.9 408.1,2615.9" fill="#ff4444"/>
<polygon points="493.6,2556.7 509.6,2587.7 477.6,2587.7" fill="#ff4444"/>
<polygon points="632.6,2520.1 648.6,2551.1 616.6,2551.1" fill="#ff4444"/>
<polygon points="771.6,2508.6 787.6,2539.6 755.6,2539.6" fill="#ff4444"/>
<polygon points="980.1,2548.9 996.1,2579.9 964.1,2579.9" fill="#ff4444"/>
<polygon points="1188.6,2609.4 1204.6,2640.4 1172.6,2640.4" fill="#ff4444"/>
<polygon points="1397.1,2609.4 1413.1,2640.4 1381.1,2640.4" fill="#ff4444"/>
<polygon points="1605.6,2609.4 1621.6,2640.4 1589.6,2640.4" fill="#ff4444"/>
<polygon points="1814.1,2609.4 1830.1,2640.4 1798.1,2640.4" fill="#ff4444"/>
<polygon points="2022.6,2609.4 2038.6,2640.4 2006.6,2640.4" fill="#ff4444"/>
<polygon points="354.6,2609 371.6,2628 354.6,2647 337.6,2628" fill="#1aa0c4"/>
<polygon points="424.1,2538.2 441.1,2557.2 424.1,2576.2 407.1,2557.2" fill="#1aa0c4"/>
<polygon points="493.6,2407.4 510.6,2426.4 493.6,2445.4 476.6,2426.4" fill="#1aa0c4"/>
<polygon points="632.6,2042.8 649.6,2061.8 632.6,2080.8 615.6,2061.8" fill="#1aa0c4"/>
<polygon points="771.6,1772.2 788.6,1791.2 771.6,1810.2 754.6,1791.2" fill="#1aa0c4"/>
<polygon points="980.1,1743.6 997.1,1762.6 980.1,1781.6 963.1,1762.6" fill="#1aa0c4"/>
<polygon points="1188.6,2158 1205.6,2177 1188.6,2196 1171.6,2177" fill="#1aa0c4"/>
<polygon points="1397.1,2447.7 1414.1,2466.7 1397.1,2485.7 1380.1,2466.7" fill="#1aa0c4"/>
<polygon points="1605.6,2493.8 1622.6,2512.8 1605.6,2531.8 1588.6,2512.8" fill="#1aa0c4"/>
<polygon points="1814.1,2550 1831.1,2569 1814.1,2588 1797.1,2569" fill="#1aa0c4"/>
<polygon points="2022.6,2562.9 2039.6,2581.9 2022.6,2600.9 2005.6,2581.9" fill="#1aa0c4"/>
<polygon points="339.6,2616.4 369.6,2616.4 354.6,2645.4" fill="#000000"/>
<polygon points="409.1,2570.3 439.1,2570.3 424.1,2599.3" fill="#000000"/>
<polygon points="478.6,2501.2 508.6,2501.2 493.6,2530.2" fill="#000000"/>
<polygon points="617.6,2371.6 647.6,2371.6 632.6,2400.6" fill="#000000"/>
<polygon points="756.6,2305.9 786.6,2305.9 771.6,2334.9" fill="#000000"/>
<polygon points="965.1,2335.6 995.1,2335.6 980.1,2364.6" fill="#000000"/>
<polygon points="1173.6,2481 1203.6,2481 1188.6,2510" fill="#000000"/>
<polygon points="1382.1,2558.8 1412.1,2558.8 1397.1,2587.8" fill="#000000"/>
<polygon points="1590.6,2587.6 1620.6,2587.6 1605.6,2616.6" fill="#000000"/>
<polygon points="1799.1,2593.4 1829.1,2593.4 1814.1,2622.4" fill="#000000"/>
<polygon points="2007.6,2599.1 2037.6,2599.1 2022.6,2628.1" fill="#000000"/>
<rect x="998.5" y="165.2" width="632.5" height="330.8" fill="none" stroke="#000" stroke-width="6.9"/>
<line x1="1051.5" y1="241.7" x2="1064.5" y2="241.7" stroke="#333" stroke-width="4"/>
<line x1="1115" y1="241.7" x2="1127.5" y2="241.7" stroke="#777" stroke-width="4"/>
<circle cx="1087.5" cy="241.7" r="15" fill="#000"/>
<text transform="translate(1161 263.5) scale(1.03 1.035)" font-size="72" text-anchor="start" font-weight="normal" stroke="#000" stroke-width="2" stroke-linejoin="round">Ibufprofen (1)</text>
<line x1="1051.5" y1="334.6" x2="1064.5" y2="334.6" stroke="#333" stroke-width="4"/>
<line x1="1115" y1="334.6" x2="1127.5" y2="334.6" stroke="#777" stroke-width="4"/>
<rect x="1075.5" y="322.6" width="24" height="24" fill="none" stroke="#000" stroke-width="5.5"/>
<text transform="translate(1161 355) scale(1.03 1.035)" font-size="72" text-anchor="start" font-weight="normal" stroke="#000" stroke-width="2" stroke-linejoin="round">IBPE (2)</text>
<line x1="1051.5" y1="426.9" x2="1064.5" y2="426.9" stroke="#333" stroke-width="4"/>
<line x1="1115" y1="426.9" x2="1127.5" y2="426.9" stroke="#777" stroke-width="4"/>
<circle cx="1087.5" cy="426.9" r="12" fill="#c80000" stroke="#000" stroke-width="3.5"/>
<text transform="translate(1161 447) scale(1.03 1.035)" font-size="72" text-anchor="start" font-weight="normal" stroke="#000" stroke-width="2" stroke-linejoin="round">IBAP (3)</text>
<rect x="1487.3" y="1546.3" width="519.2" height="606.5" fill="none" stroke="#000" stroke-width="6.9"/>
<line x1="1529.5" y1="1638.8" x2="1541.5" y2="1638.8" stroke="#222222" stroke-width="4.5"/>
<line x1="1590.5" y1="1638.8" x2="1602.5" y2="1638.8" stroke="#222222" stroke-width="4.5"/>
<polygon points="1551.2,1627.2 1581.2,1627.2 1566.2,1656.2" fill="#000000"/>
<text transform="translate(1638 1659.5) scale(1 1.035)" font-size="72" text-anchor="start" font-weight="normal" stroke="#000" stroke-width="2" stroke-linejoin="round">4</text>
<line x1="1529.5" y1="1731.6" x2="1541.5" y2="1731.6" stroke="#1ba2c2" stroke-width="4.5"/>
<line x1="1590.5" y1="1731.6" x2="1602.5" y2="1731.6" stroke="#1ba2c2" stroke-width="4.5"/>
<polygon points="1566.2,1712.6 1583.2,1731.6 1566.2,1750.6 1549.2,1731.6" fill="#1aa0c4"/>
<text transform="translate(1638 1751.6) scale(1 1.035)" font-size="72" text-anchor="start" font-weight="normal" stroke="#000" stroke-width="2" stroke-linejoin="round">5</text>
<line x1="1529.5" y1="1823.4" x2="1541.5" y2="1823.4" stroke="#ff5a5a" stroke-width="4.5"/>
<line x1="1590.5" y1="1823.4" x2="1602.5" y2="1823.4" stroke="#ff5a5a" stroke-width="4.5"/>
<polygon points="1566.2,1804.8 1582.2,1835.8 1550.2,1835.8" fill="#ff4444"/>
<text transform="translate(1638 1843.7) scale(1 1.035)" font-size="72" text-anchor="start" font-weight="normal" stroke="#000" stroke-width="2" stroke-linejoin="round">6</text>
<line x1="1529.5" y1="1915.6" x2="1541.5" y2="1915.6" stroke="#00c83c" stroke-width="4.5"/>
<line x1="1590.5" y1="1915.6" x2="1602.5" y2="1915.6" stroke="#00c83c" stroke-width="4.5"/>
<polygon points="1566.2,1897 1582.2,1928 1550.2,1928" fill="#00ff22"/>
<text transform="translate(1638 1935.8) scale(1 1.035)" font-size="72" text-anchor="start" font-weight="normal" stroke="#000" stroke-width="2" stroke-linejoin="round">7</text>
<line x1="1529.5" y1="2007.7" x2="1541.5" y2="2007.7" stroke="#222222" stroke-width="4.5"/>
<line x1="1590.5" y1="2007.7" x2="1602.5" y2="2007.7" stroke="#222222" stroke-width="4.5"/>
<polygon points="1551.2,1996.1 1581.2,1996.1 1566.2,2025.1" fill="#000000"/>
<text transform="translate(1638 2027.9) scale(1 1.035)" font-size="72" text-anchor="start" font-weight="normal" stroke="#000" stroke-width="2" stroke-linejoin="round">8</text>
<line x1="1529.5" y1="2099.8" x2="1541.5" y2="2099.8" stroke="#7d2e8e" stroke-width="4.5"/>
<line x1="1590.5" y1="2099.8" x2="1602.5" y2="2099.8" stroke="#7d2e8e" stroke-width="4.5"/>
<rect x="1550.7" y="2083.3" width="31" height="33" fill="#9000b0"/>
<text transform="translate(1638 2120) scale(1 1.035)" font-size="72" text-anchor="start" font-weight="normal" stroke="#000" stroke-width="2" stroke-linejoin="round">9</text>
<line x1="1770.5" y1="1638.8" x2="1782.5" y2="1638.8" stroke="#d83a3a" stroke-width="4.5"/>
<line x1="1832" y1="1638.8" x2="1844" y2="1638.8" stroke="#d83a3a" stroke-width="4.5"/>
<polygon points="1806.8,1619.8 1823.8,1638.8 1806.8,1657.8 1789.8,1638.8" fill="#ff0000"/>
<text transform="translate(1884 1659.5) scale(1 1.035)" font-size="72" text-anchor="start" font-weight="normal" stroke="#000" stroke-width="2" stroke-linejoin="round">10</text>
<line x1="1770.5" y1="1731.6" x2="1782.5" y2="1731.6" stroke="#d77a2e" stroke-width="4.5"/>
<line x1="1832" y1="1731.6" x2="1844" y2="1731.6" stroke="#d77a2e" stroke-width="4.5"/>
<rect x="1792.3" y="1716.1" width="29" height="31" rx="2" fill="#ff8000" stroke="#e06a00" stroke-width="2.5"/>
<text transform="translate(1884 1751.6) scale(1 1.035)" font-size="72" text-anchor="start" font-weight="normal" stroke="#000" stroke-width="2" stroke-linejoin="round">11</text>
<line x1="1770.5" y1="1823.4" x2="1782.5" y2="1823.4" stroke="#222222" stroke-width="4.5"/>
<line x1="1832" y1="1823.4" x2="1844" y2="1823.4" stroke="#222222" stroke-width="4.5"/>
<circle cx="1806.8" cy="1823.4" r="15" fill="#000000"/>
<text transform="translate(1884 1843.7) scale(1 1.035)" font-size="72" text-anchor="start" font-weight="normal" stroke="#000" stroke-width="2" stroke-linejoin="round">12</text>
<line x1="1770.5" y1="1915.6" x2="1782.5" y2="1915.6" stroke="#222222" stroke-width="4.5"/>
<line x1="1832" y1="1915.6" x2="1844" y2="1915.6" stroke="#222222" stroke-width="4.5"/>
<path d="M1794.8 1903.6L1818.8 1927.6M1794.8 1927.6L1818.8 1903.6" stroke="#3a3a3a" stroke-width="3.2" fill="none"/>
<text transform="translate(1884 1935.8) scale(1 1.035)" font-size="72" text-anchor="start" font-weight="normal" stroke="#000" stroke-width="2" stroke-linejoin="round">13</text>
<line x1="1770.5" y1="2007.7" x2="1782.5" y2="2007.7" stroke="#c01c1c" stroke-width="4.5"/>
<line x1="1832" y1="2007.7" x2="1844" y2="2007.7" stroke="#c01c1c" stroke-width="4.5"/>
<circle cx="1806.8" cy="2007.7" r="15" fill="#c80000"/>
<text transform="translate(1884 2027.9) scale(1 1.035)" font-size="72" text-anchor="start" font-weight="normal" stroke="#000" stroke-width="2" stroke-linejoin="round">14</text>
</svg>
</body></html>
